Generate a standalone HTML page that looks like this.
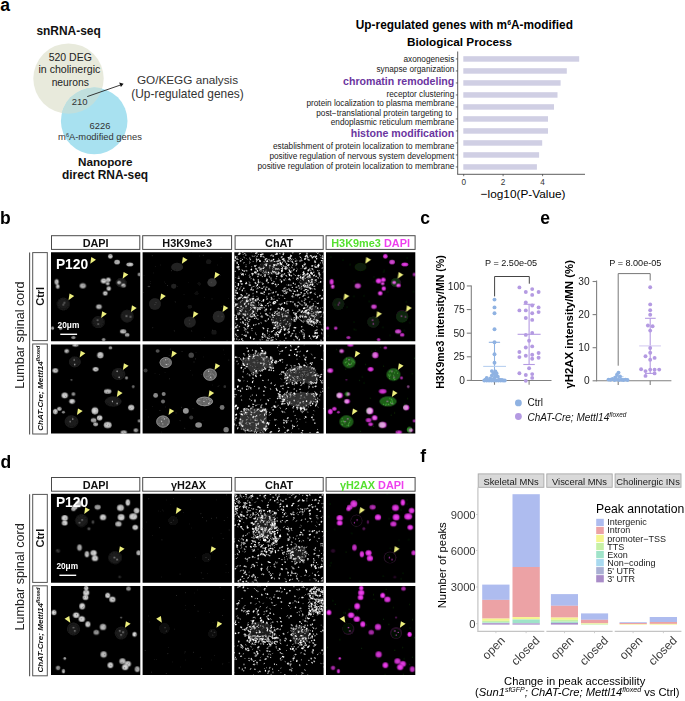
<!DOCTYPE html>
<html><head><meta charset="utf-8"><title>Figure</title>
<style>
html,body{margin:0;padding:0;background:#fff;width:685px;height:701px;overflow:hidden}
svg{display:block}
text{font-family:"Liberation Sans",sans-serif}
</style></head><body>
<svg width="685" height="701" viewBox="0 0 685 701" font-family="Liberation Sans, sans-serif">
<defs><filter id="soft" x="-5%" y="-5%" width="110%" height="110%"><feGaussianBlur stdDeviation="3.5"/></filter>
<filter id="soft2" x="-5%" y="-5%" width="110%" height="110%"><feGaussianBlur stdDeviation="2"/></filter>
<radialGradient id="nuc"><stop offset="0" stop-color="#ececec"/><stop offset="0.6" stop-color="#d4d4d4"/><stop offset="1" stop-color="#a0a0a0"/></radialGradient>
<radialGradient id="nucm"><stop offset="0" stop-color="#ff50ff"/><stop offset="0.6" stop-color="#e838e8"/><stop offset="1" stop-color="#b020b0"/></radialGradient>
</defs>
<rect width="685" height="701" fill="#fff"/>
<text x="0.20" y="11.40" font-size="17.5" font-weight="bold" text-anchor="start" fill="#000" >a</text>
<text x="68.60" y="35.10" font-size="11.95" font-weight="bold" text-anchor="middle" fill="#111" >snRNA-seq</text>
<defs><clipPath id="cb"><circle cx="68.5" cy="78.6" r="35.2"/></clipPath></defs>
<circle cx="68.5" cy="78.6" r="35.2" fill="#e8eadc"/>
<circle cx="94.2" cy="120.9" r="33.3" fill="#a8e1f0"/>
<circle cx="94.2" cy="120.9" r="33.3" fill="#c0dfdd" clip-path="url(#cb)"/>
<text x="70.25" y="61.10" font-size="10.5" text-anchor="middle" fill="#222" >520 DEG</text>
<text x="69.40" y="73.30" font-size="10.6" text-anchor="middle" fill="#222" >in cholinergic</text>
<text x="70.25" y="86.00" font-size="10.3" text-anchor="middle" fill="#222" >neurons</text>
<text x="79.60" y="104.60" font-size="9.5" text-anchor="middle" fill="#333" >210</text>
<text x="100.00" y="128.80" font-size="9.4" text-anchor="middle" fill="#333" >6226</text>
<text x="100" y="140.2" font-size="9.4" text-anchor="middle" fill="#333">m<tspan font-size="5.5" dy="-3.2">6</tspan><tspan dy="3.2">A-modified genes</tspan></text>
<text x="105.30" y="165.60" font-size="11.7" font-weight="bold" text-anchor="middle" fill="#111" >Nanopore</text>
<text x="105.00" y="179.40" font-size="11.95" font-weight="bold" text-anchor="middle" fill="#111" >direct RNA-seq</text>
<line x1="87.2" y1="96.6" x2="120.5" y2="85" stroke="#222" stroke-width="0.9"/>
<polygon points="123.6,83.8 119.2,82.6 120.9,87" fill="#111"/>
<text x="187.50" y="84.10" font-size="11.75" text-anchor="middle" fill="#333" >GO/KEGG analysis</text>
<text x="187.50" y="97.80" font-size="11.9" text-anchor="middle" fill="#333" >(Up-regulated genes)</text>
<text x="355.8" y="29" font-size="11.85" font-weight="bold" fill="#000">Up-regulated genes with m<tspan font-size="7" dy="-4">6</tspan><tspan dy="4">A-modified</tspan></text>
<text x="406.90" y="45.60" font-size="11.75" font-weight="bold" text-anchor="start" fill="#000" >Biological Process</text>
<rect x="463.3" y="56.20" width="115.90" height="5.5" fill="#d0cfe4"/>
<line x1="455.8" y1="58.95" x2="457.7" y2="58.95" stroke="#333" stroke-width="0.7"/>
<text x="454.30" y="61.80" font-size="8.24" text-anchor="end" fill="#1a1a1a" >axonogenesis</text>
<rect x="463.3" y="68.20" width="103.50" height="5.5" fill="#d0cfe4"/>
<line x1="455.8" y1="70.95" x2="457.7" y2="70.95" stroke="#333" stroke-width="0.7"/>
<text x="454.30" y="72.20" font-size="8.24" text-anchor="end" fill="#1a1a1a" >synapse organization</text>
<rect x="463.3" y="80.20" width="97.30" height="5.5" fill="#d0cfe4"/>
<line x1="455.8" y1="82.95" x2="457.7" y2="82.95" stroke="#333" stroke-width="0.7"/>
<text x="454.30" y="85.00" font-size="10.6" font-weight="bold" text-anchor="end" fill="#6b35a0" >chromatin remodeling</text>
<rect x="463.3" y="92.20" width="94.20" height="5.5" fill="#d0cfe4"/>
<line x1="455.8" y1="94.95" x2="457.7" y2="94.95" stroke="#333" stroke-width="0.7"/>
<text x="454.30" y="96.60" font-size="8.24" text-anchor="end" fill="#1a1a1a" >receptor clustering</text>
<rect x="463.3" y="104.20" width="90.70" height="5.5" fill="#d0cfe4"/>
<line x1="455.8" y1="106.95" x2="457.7" y2="106.95" stroke="#333" stroke-width="0.7"/>
<text x="454.30" y="106.00" font-size="8.24" text-anchor="end" fill="#1a1a1a" >protein localization to plasma membrane</text>
<rect x="463.3" y="116.20" width="84.70" height="5.5" fill="#d0cfe4"/>
<line x1="455.8" y1="118.95" x2="457.7" y2="118.95" stroke="#333" stroke-width="0.7"/>
<text x="454.30" y="116.40" font-size="8.24" text-anchor="end" fill="#1a1a1a" >post−translational protein targeting to&#160;</text>
<text x="454.30" y="124.70" font-size="8.24" text-anchor="end" fill="#1a1a1a" >endoplasmic reticulum membrane</text>
<rect x="463.3" y="128.20" width="84.70" height="5.5" fill="#d0cfe4"/>
<line x1="455.8" y1="130.95" x2="457.7" y2="130.95" stroke="#333" stroke-width="0.7"/>
<text x="454.30" y="137.00" font-size="10.6" font-weight="bold" text-anchor="end" fill="#6b35a0" >histone modification</text>
<rect x="463.3" y="140.20" width="78.90" height="5.5" fill="#d0cfe4"/>
<line x1="455.8" y1="142.95" x2="457.7" y2="142.95" stroke="#333" stroke-width="0.7"/>
<text x="454.30" y="148.60" font-size="8.24" text-anchor="end" fill="#1a1a1a" >establishment of protein localization to membrane</text>
<rect x="463.3" y="152.20" width="75.80" height="5.5" fill="#d0cfe4"/>
<line x1="455.8" y1="154.95" x2="457.7" y2="154.95" stroke="#333" stroke-width="0.7"/>
<text x="454.30" y="158.50" font-size="8.24" text-anchor="end" fill="#1a1a1a" >positive regulation of nervous system development</text>
<rect x="463.3" y="164.20" width="73.60" height="5.5" fill="#d0cfe4"/>
<line x1="455.8" y1="166.95" x2="457.7" y2="166.95" stroke="#333" stroke-width="0.7"/>
<text x="454.30" y="168.50" font-size="8.24" text-anchor="end" fill="#1a1a1a" >positive regulation of protein localization to membrane</text>
<line x1="457.7" y1="51.5" x2="457.7" y2="174.3" stroke="#333" stroke-width="0.8"/>
<line x1="457.3" y1="174.3" x2="585" y2="174.3" stroke="#333" stroke-width="0.8"/>
<line x1="463.7" y1="174.3" x2="463.7" y2="176.2" stroke="#333" stroke-width="0.7"/>
<text x="463.70" y="184.90" font-size="8.2" text-anchor="middle" fill="#333" >0</text>
<line x1="503.1" y1="174.3" x2="503.1" y2="176.2" stroke="#333" stroke-width="0.7"/>
<text x="503.10" y="184.90" font-size="8.2" text-anchor="middle" fill="#333" >2</text>
<line x1="542.6" y1="174.3" x2="542.6" y2="176.2" stroke="#333" stroke-width="0.7"/>
<text x="542.60" y="184.90" font-size="8.2" text-anchor="middle" fill="#333" >4</text>
<text x="523.10" y="197.80" font-size="11.8" text-anchor="middle" fill="#000" >−log10(P-Value)</text>
<svg x="51.0" y="252.3" width="89.3" height="89.0" viewBox="8 15 665 663" preserveAspectRatio="none">
<rect x="0" y="0" width="700" height="700" fill="#000"/>
<g filter="url(#soft)">
<ellipse cx="530" cy="240" rx="38" ry="32" fill="#212121"/>
<ellipse cx="100" cy="400" rx="45" ry="45" fill="#1a1a1a"/>
<ellipse cx="360" cy="535" rx="45" ry="42" fill="#1a1a1a"/>
<ellipse cx="575" cy="490" rx="45" ry="45" fill="#1f1f1f"/>
<ellipse cx="100" cy="405" rx="5" ry="5" fill="#d9d9d9"/>
<ellipse cx="108" cy="390" rx="5" ry="5" fill="#d9d9d9"/>
<ellipse cx="570" cy="490" rx="5" ry="5" fill="#d9d9d9"/>
<ellipse cx="600" cy="495" rx="5" ry="5" fill="#d9d9d9"/>
<ellipse cx="360" cy="548" rx="5" ry="5" fill="#d9d9d9"/>
<ellipse cx="355" cy="520" rx="5" ry="5" fill="#d9d9d9"/>
<ellipse cx="520" cy="238" rx="5" ry="5" fill="#d9d9d9"/>
<ellipse cx="450" cy="45" rx="18.0" ry="18.0" fill="url(#nuc)" opacity="0.90"/>
<ellipse cx="500" cy="88" rx="21.6" ry="18.0" fill="url(#nuc)" opacity="0.84"/>
<ellipse cx="595" cy="105" rx="26.4" ry="15.6" fill="url(#nuc)" opacity="0.90"/>
<ellipse cx="50" cy="235" rx="15.6" ry="21.6" fill="url(#nuc)" opacity="0.90"/>
<ellipse cx="58" cy="270" rx="14.4" ry="16.8" fill="url(#nuc)" opacity="0.90"/>
<ellipse cx="245" cy="265" rx="24.0" ry="20.4" fill="url(#nuc)" opacity="0.78"/>
<ellipse cx="400" cy="228" rx="21.6" ry="19.2" fill="url(#nuc)" opacity="0.95"/>
<ellipse cx="435" cy="220" rx="18.0" ry="16.8" fill="url(#nuc)" opacity="0.95"/>
<ellipse cx="430" cy="248" rx="14.4" ry="12.0" fill="url(#nuc)" opacity="0.95"/>
<ellipse cx="438" cy="285" rx="16.8" ry="16.8" fill="url(#nuc)" opacity="0.95"/>
<ellipse cx="412" cy="320" rx="18.0" ry="16.8" fill="url(#nuc)" opacity="0.95"/>
<ellipse cx="365" cy="420" rx="21.6" ry="18.0" fill="url(#nuc)" opacity="0.84"/>
<ellipse cx="20" cy="580" rx="12.0" ry="12.0" fill="url(#nuc)" opacity="0.78"/>
<ellipse cx="80" cy="580" rx="14.4" ry="12.0" fill="url(#nuc)" opacity="0.78"/>
<ellipse cx="545" cy="605" rx="24.0" ry="16.8" fill="url(#nuc)" opacity="0.84"/>
<ellipse cx="575" cy="630" rx="18.0" ry="14.4" fill="url(#nuc)" opacity="0.78"/>
<ellipse cx="175" cy="650" rx="16.8" ry="12.0" fill="url(#nuc)" opacity="0.67"/>
<ellipse cx="400" cy="665" rx="14.4" ry="12.0" fill="url(#nuc)" opacity="0.67"/>
<ellipse cx="665" cy="180" rx="12.0" ry="14.4" fill="url(#nuc)" opacity="0.67"/>
<ellipse cx="515" cy="240" rx="15.6" ry="13.2" fill="url(#nuc)" opacity="0.90"/>
<ellipse cx="548" cy="262" rx="18.0" ry="14.4" fill="url(#nuc)" opacity="0.95"/>
<ellipse cx="530" cy="240" rx="38" ry="32" fill="none" stroke="#2c2c2c" stroke-width="4"/>
<ellipse cx="100" cy="400" rx="45" ry="45" fill="none" stroke="#2c2c2c" stroke-width="4"/>
<ellipse cx="360" cy="535" rx="45" ry="42" fill="none" stroke="#2c2c2c" stroke-width="4"/>
<ellipse cx="575" cy="490" rx="45" ry="45" fill="none" stroke="#2c2c2c" stroke-width="4"/>
<path d="M447 40l0 0M452 39l0 0M501 86l0 0M492 88l0 0M585 104l0 0M586 100l0 0M49 241l0 0M45 230l0 0M60 276l0 0M247 263l0 0M255 257l0 0M406 225l0 0M394 222l0 0M432 224l0 0M430 221l0 0M432 247l0 0M439 279l0 0M432 281l0 0M415 319l0 0M409 321l0 0M364 417l0 0M370 423l0 0M17 581l0 0M80 584l0 0M550 602l0 0M555 600l0 0M574 633l0 0M570 630l0 0M169 652l0 0M179 651l0 0M405 663l0 0M667 181l0 0M516 240l0 0M519 245l0 0M548 264l0 0M541 264l0 0" stroke="#707070" stroke-width="6" stroke-linecap="round" fill="none"/>
</g>
<polygon points="300.4,100.8 307.9,50.9 342.9,70.3" fill="#eef07e"/>
<polygon points="541.4,211.8 548.9,161.9 583.9,181.3" fill="#eef07e"/>
<polygon points="138.4,371.8 145.9,321.9 180.9,341.3" fill="#eef07e"/>
<polygon points="381.4,503.8 388.9,453.9 423.9,473.3" fill="#eef07e"/>
<polygon points="603.4,459.8 610.9,409.9 645.9,429.3" fill="#eef07e"/>
</svg>
<svg x="142.6" y="252.3" width="89.3" height="89.0" viewBox="8 15 665 663" preserveAspectRatio="none">
<rect x="0" y="0" width="700" height="700" fill="#000"/>
<g filter="url(#soft)">
<ellipse cx="265" cy="125" rx="45" ry="32" fill="#202020"/>
<ellipse cx="525" cy="240" rx="35" ry="32" fill="#353535"/>
<ellipse cx="240" cy="268" rx="20" ry="18" fill="#202020"/>
<ellipse cx="100" cy="400" rx="45" ry="45" fill="#202020"/>
<ellipse cx="360" cy="535" rx="45" ry="42" fill="#202020"/>
<ellipse cx="575" cy="495" rx="45" ry="45" fill="#282828"/>
<ellipse cx="500" cy="85" rx="20" ry="18" fill="#151515"/>
<ellipse cx="540" cy="610" rx="20" ry="18" fill="#161616"/>
<ellipse cx="360" cy="420" rx="18" ry="15" fill="#161616"/>
<ellipse cx="410" cy="320" rx="15" ry="14" fill="#101010"/>
<ellipse cx="55" cy="270" rx="10" ry="6" fill="#383838"/>
<ellipse cx="430" cy="250" rx="14" ry="14" fill="#0e0e0e"/>
<ellipse cx="100" cy="405" rx="4" ry="4" fill="#4c4c4c"/>
<ellipse cx="108" cy="390" rx="4" ry="4" fill="#4c4c4c"/>
<ellipse cx="570" cy="490" rx="4" ry="4" fill="#4c4c4c"/>
<ellipse cx="600" cy="495" rx="4" ry="4" fill="#4c4c4c"/>
<ellipse cx="360" cy="548" rx="4" ry="4" fill="#4c4c4c"/>
<ellipse cx="355" cy="520" rx="4" ry="4" fill="#4c4c4c"/>
<ellipse cx="520" cy="238" rx="4" ry="4" fill="#4c4c4c"/>
<path d="M15 314l0 0M88 168l0 0M593 55l0 0M588 189l0 0M103 120l0 0M159 330l0 0M179 3l0 0M470 351l0 0M267 271l0 0M431 42l0 0M142 110l0 0M36 0l0 0M69 247l0 0M595 418l0 0M172 236l0 0M317 329l0 0M69 233l0 0M564 110l0 0M647 359l0 0M369 18l0 0M178 249l0 0M556 503l0 0M352 242l0 0M19 190l0 0M471 650l0 0M248 150l0 0" stroke="#202020" stroke-width="6" stroke-linecap="round" fill="none"/>
<path d="M440 675l0 0M194 262l0 0M80 40l0 0M374 601l0 0M244 601l0 0M251 385l0 0M460 37l0 0M530 595l0 0M84 577l0 0M665 587l0 0M525 362l0 0M224 152l0 0M670 580l0 0M637 672l0 0" stroke="#404040" stroke-width="6" stroke-linecap="round" fill="none"/>
</g>
<polygon points="300.4,100.8 307.9,50.9 342.9,70.3" fill="#eef07e"/>
<polygon points="541.4,211.8 548.9,161.9 583.9,181.3" fill="#eef07e"/>
<polygon points="138.4,371.8 145.9,321.9 180.9,341.3" fill="#eef07e"/>
<polygon points="381.4,503.8 388.9,453.9 423.9,473.3" fill="#eef07e"/>
<polygon points="603.4,459.8 610.9,409.9 645.9,429.3" fill="#eef07e"/>
</svg>
<svg x="234.3" y="252.3" width="89.3" height="89.0" viewBox="8 15 665 663" preserveAspectRatio="none">
<rect x="0" y="0" width="700" height="700" fill="#000"/>
<g filter="url(#soft2)">
<ellipse cx="100" cy="430" rx="80" ry="70" fill="#1f1f1f"/>
<ellipse cx="360" cy="520" rx="80" ry="70" fill="#1a1a1a"/>
<ellipse cx="580" cy="480" rx="70" ry="70" fill="#1a1a1a"/>
<ellipse cx="550" cy="230" rx="60" ry="50" fill="#121212"/>
<ellipse cx="270" cy="130" rx="80" ry="55" fill="#141414"/>
<path d="M59 379l0 0M100 382l0 0M164 410l0 0M72 422l0 0M117 401l0 0M97 475l0 0M33 409l0 0M63 417l0 0M155 382l0 0M135 445l0 0M81 456l0 0M90 433l0 0M59 395l0 0M133 452l0 0M108 394l0 0M300 495l0 0M362 543l0 0M394 530l0 0M336 577l0 0M326 520l0 0M400 524l0 0M354 468l0 0M284 531l0 0M330 456l0 0M321 543l0 0M359 548l0 0M352 554l0 0M343 559l0 0M377 567l0 0M372 523l0 0M396 490l0 0M333 467l0 0M360 539l0 0M538 442l0 0M562 530l0 0M560 426l0 0M629 525l0 0M647 471l0 0M546 491l0 0M624 442l0 0M619 451l0 0M572 505l0 0M554 539l0 0M580 416l0 0M547 496l0 0M631 518l0 0M612 466l0 0M523 462l0 0M557 450l0 0M594 504l0 0M621 453l0 0M600 504l0 0M568 498l0 0M538 473l0 0M601 455l0 0M550 247l0 0M507 240l0 0M530 208l0 0M518 215l0 0M545 227l0 0M581 207l0 0M532 201l0 0M521 188l0 0M547 195l0 0M520 188l0 0M559 239l0 0M523 251l0 0M552 232l0 0M515 269l0 0M570 189l0 0M537 254l0 0M559 227l0 0M193 132l0 0M279 88l0 0M270 144l0 0M329 93l0 0M257 94l0 0M323 165l0 0M282 156l0 0M225 85l0 0M284 124l0 0M306 103l0 0M284 77l0 0M218 105l0 0M250 145l0 0M272 136l0 0M255 109l0 0M209 116l0 0M310 105l0 0M231 158l0 0M305 125l0 0" stroke="#202020" stroke-width="8" stroke-linecap="round" fill="none"/>
<path d="M112 460l0 0M159 392l0 0M59 373l0 0M111 391l0 0M150 422l0 0M111 405l0 0M164 423l0 0M163 420l0 0M90 463l0 0M140 408l0 0M34 397l0 0M149 405l0 0M89 429l0 0M102 434l0 0M126 473l0 0M57 416l0 0M108 381l0 0M105 363l0 0M57 398l0 0M81 386l0 0M23 439l0 0M28 405l0 0M118 449l0 0M138 479l0 0M115 497l0 0M21 436l0 0M128 469l0 0M98 420l0 0M33 461l0 0M422 541l0 0M430 550l0 0M428 546l0 0M357 545l0 0M382 478l0 0M385 482l0 0M393 469l0 0M375 534l0 0M400 465l0 0M329 527l0 0M319 553l0 0M358 541l0 0M367 573l0 0M360 463l0 0M391 517l0 0M350 509l0 0M409 485l0 0M371 496l0 0M287 518l0 0M389 525l0 0M418 559l0 0M316 480l0 0M355 520l0 0M359 470l0 0M349 505l0 0M355 489l0 0M416 513l0 0M523 488l0 0M601 508l0 0M614 493l0 0M533 475l0 0M610 469l0 0M623 527l0 0M629 481l0 0M569 521l0 0M634 480l0 0M550 478l0 0M643 462l0 0M575 433l0 0M602 469l0 0M559 512l0 0M615 475l0 0M564 530l0 0M638 441l0 0M580 435l0 0M615 515l0 0M580 524l0 0M592 482l0 0M583 209l0 0M541 190l0 0M549 270l0 0M562 239l0 0M493 242l0 0M551 279l0 0M547 237l0 0M584 236l0 0M539 210l0 0M583 225l0 0M553 253l0 0M534 277l0 0M561 252l0 0M550 221l0 0M577 225l0 0M574 189l0 0M589 240l0 0M573 219l0 0M558 225l0 0M527 213l0 0M552 182l0 0M240 148l0 0M292 85l0 0M250 160l0 0M301 142l0 0M291 139l0 0M215 152l0 0M269 79l0 0M225 116l0 0M313 172l0 0M232 129l0 0M199 138l0 0M203 104l0 0M268 173l0 0M291 177l0 0M293 137l0 0M304 169l0 0M247 168l0 0M247 148l0 0M206 153l0 0M329 134l0 0M290 121l0 0M313 154l0 0M344 111l0 0M343 147l0 0" stroke="#404040" stroke-width="8" stroke-linecap="round" fill="none"/>
<path d="M122 449l0 0M148 411l0 0M66 376l0 0M147 481l0 0M171 424l0 0M98 457l0 0M367 501l0 0M328 564l0 0M353 588l0 0M322 510l0 0M388 473l0 0M519 496l0 0M612 519l0 0M633 454l0 0M534 431l0 0M577 533l0 0M614 494l0 0M642 462l0 0M588 230l0 0M575 189l0 0M501 224l0 0M556 206l0 0M528 244l0 0M505 259l0 0M544 180l0 0M538 249l0 0M565 233l0 0M548 273l0 0M533 252l0 0M492 238l0 0M227 120l0 0M247 161l0 0M296 146l0 0M261 160l0 0M206 156l0 0M272 134l0 0M258 169l0 0" stroke="#606060" stroke-width="8" stroke-linecap="round" fill="none"/>
<path d="M493 610l3 5M678 309l-0 0M270 67l0 2M288 513l-0 2M398 258l4 1M607 179l-5 3M662 44l-0 2M174 249l1 3M97 538l-4 0M17 201l4 4M15 239l5 3M109 500l-1 9M110 511l1 2" stroke="#808080" stroke-width="5" stroke-linecap="round" fill="none"/>
<path d="M422 170l-3 1M500 520l1 3M606 43l7 4M384 587l3 3M660 357l6 3M512 279l1 1M146 181l-3 7M558 144l-1 4M495 328l7 1M424 564l0 0M149 341l-1 9M649 91l-1 6M146 471l-5 2M94 601l-0 8M249 647l2 0M120 251l-3 1M1 603l0 0M0 285l7 5M229 632l-0 1M649 549l7 5M204 468l0 5" stroke="#808080" stroke-width="7" stroke-linecap="round" fill="none"/>
<path d="M444 15l-0 3M239 632l-6 5M469 412l-4 2M123 57l1 8M200 665l1 5M172 378l0 0M43 140l-2 5M150 379l-5 2M187 355l0 6M457 2l0 1M148 321l-1 2M323 471l-1 5M575 152l3 1M558 55l-2 1M218 495l-3 4M435 126l4 5" stroke="#808080" stroke-width="9" stroke-linecap="round" fill="none"/>
<path d="M619 7l-0 3M241 472l1 0M314 626l7 1M144 405l0 0M32 472l0 2M349 545l-4 6M335 563l-2 7M381 283l-5 4M398 395l2 5M89 473l-2 0M271 385l0 0M1 49l-2 0M332 583l1 0M399 315l-1 1M102 360l-0 7M390 453l1 3M80 153l-0 1M497 280l-5 3M528 106l8 0M246 275l4 1" stroke="#808080" stroke-width="11" stroke-linecap="round" fill="none"/>
<path d="M250 342l0 6M352 335l-0 0M388 209l4 3M534 185l3 4M268 605l2 3M172 260l1 4M591 287l-3 2M597 147l1 0M417 548l-2 6M369 473l-1 0M580 661l2 1M317 137l-2 3M616 466l8 3M244 451l-7 3M467 482l0 7M668 427l-4 0M544 401l-4 7M348 400l-7 1M523 5l-5 4M233 54l4 6M207 43l1 0M541 425l2 2M230 84l-1 0M603 514l-6 7M18 542l0 6M274 124l-5 3M213 19l1 9M96 108l-0 1M105 511l-2 7M411 123l-5 5M449 17l-6 4M167 25l3 2M671 267l6 2M592 471l2 0M514 483l6 2M349 138l-4 6M117 236l8 4M540 185l-1 1M299 519l-0 4M55 62l-1 1M446 208l1 0M340 358l3 1M639 551l-0 0M332 79l6 2M128 494l-4 2M349 672l1 1M460 474l5 0M447 347l5 0M160 436l6 3M402 306l4 6M380 577l-4 2M500 476l-1 1M326 569l1 2M331 587l-1 1M266 174l-4 6M667 79l-0 9M444 292l2 4M570 422l-1 2M88 302l-1 0M606 516l1 2M478 78l-4 4M254 74l2 4M390 220l1 1M284 318l-4 3M70 627l-6 1M507 405l3 4M531 281l1 1" stroke="#9f9f9f" stroke-width="5" stroke-linecap="round" fill="none"/>
<path d="M422 561l-2 5M342 462l-6 5M58 345l6 5M142 492l-7 5M509 286l-3 6M26 369l4 1M545 267l8 2M580 521l0 2M377 180l-1 4M533 196l-2 1M401 129l4 6M273 490l2 9M259 69l-3 4M319 211l-0 2M270 628l2 2M52 224l5 1M175 373l4 0M313 554l-2 1M6 580l-3 2M215 241l2 6M106 346l6 4M399 450l-4 2M249 356l7 4M24 299l2 2M658 615l2 8M199 374l-6 1M58 169l-1 2M451 177l2 4M490 263l3 4M487 499l0 8M485 456l-7 3M282 218l4 8M112 616l-2 1M214 662l3 1M321 134l4 5M206 539l5 3M246 410l-8 3M554 416l-1 7M245 99l-4 2M517 216l5 5M169 469l4 1M174 176l4 3M400 587l5 7M184 28l5 4M579 469l2 7M453 142l2 0M51 472l-0 1M143 364l1 2M561 540l-4 0M34 593l-2 5M345 25l6 1M603 513l-6 4M349 172l-1 0M98 319l2 3M141 43l8 2M270 8l2 1M148 83l1 0M668 88l-4 2M119 561l3 3" stroke="#9f9f9f" stroke-width="7" stroke-linecap="round" fill="none"/>
<path d="M281 205l0 6M72 358l-2 0M602 162l-6 4M335 80l-1 0M160 490l8 2M181 280l3 4M109 475l-5 1M25 660l2 2M562 349l-5 3M604 286l6 4M17 269l-1 2M624 592l-5 5M497 445l1 0M194 129l-6 2M147 387l8 4M388 680l-0 5M175 137l-4 7M224 248l-5 6M66 440l-0 1M101 348l6 4M245 476l0 2M411 443l-6 3M181 43l-1 0M314 134l0 6M432 303l1 1M198 127l-6 1M382 594l2 0M398 549l-6 1M653 668l3 8M93 417l-0 3M379 588l2 8M503 208l2 0M521 208l-4 7M597 397l-0 4M552 519l-5 8M587 364l-1 2M644 177l2 6M456 502l-3 0M363 396l-1 3M520 215l4 6M567 497l1 2M320 163l-7 3M531 628l-0 0M509 524l-0 3M384 358l-1 1M116 338l-6 3M648 337l-4 5M235 7l4 1M28 58l-2 1M242 524l-5 1M59 421l-0 0M239 160l-4 7M564 438l0 4M509 378l4 2M443 447l-1 1M96 379l4 6" stroke="#9f9f9f" stroke-width="9" stroke-linecap="round" fill="none"/>
<path d="M213 490l-5 4M213 427l1 2M239 180l-1 8M679 550l-4 1M405 463l5 3M473 275l-5 0M413 64l4 3M335 81l-8 2M97 151l4 2M396 138l-7 2M91 393l-4 4M299 538l-5 1M256 652l3 3M267 324l-3 1M73 499l3 5M187 220l-0 1M484 328l7 3M508 77l4 0M588 484l-6 2M20 298l0 5M643 534l5 2M614 124l8 2M559 477l1 2M554 444l-7 3M167 135l1 3M275 114l-4 1M54 513l2 1M383 305l1 0M505 488l-5 6M208 145l-1 0M530 389l4 6M416 586l-3 2M432 635l-3 5M607 87l5 3M544 407l-8 0M367 301l7 4M32 123l-4 2M562 519l1 1M529 270l4 2M329 471l0 4M414 288l2 1M335 2l3 2M387 299l-1 2M659 588l6 6M286 516l1 2M140 360l4 1M266 285l0 4M14 359l2 1M476 332l3 7M298 121l-0 1M587 437l-3 5M491 675l-2 6M468 513l0 4M597 490l-4 0M133 398l-1 6" stroke="#9f9f9f" stroke-width="11" stroke-linecap="round" fill="none"/>
<path d="M544 497l0 0M251 99l3 2M452 666l2 8M106 578l2 5M143 465l-2 6M39 469l3 1M393 621l-6 5M466 621l0 5M642 195l6 5M73 497l-1 5M421 545l1 2M623 393l4 5M329 555l-8 1M296 465l-1 1M469 8l0 0M340 107l1 1M91 342l-6 1M322 143l-6 1M437 10l1 2M357 50l0 7M577 436l-5 0M450 577l1 2M479 416l-2 7M166 616l-1 0M204 237l1 1M602 486l8 5M535 497l0 0M201 11l7 2M149 372l-1 1M516 591l2 0M36 642l-7 2M273 294l8 4M122 86l0 0M24 567l4 5M177 344l-1 0M23 316l3 6M145 424l2 4M219 25l4 2M409 380l-4 4M580 420l7 5M512 211l-0 1M222 631l0 0M610 239l-2 2M589 175l-3 4M134 211l-3 1M393 303l-3 1M567 238l-1 2M206 396l4 7M371 17l1 2M261 179l-2 3M585 218l2 3M483 220l-2 1M104 566l2 3M234 180l-6 4M606 83l0 0M651 429l-2 5M316 637l-3 0M406 444l-0 3M174 112l-3 1M258 519l-2 2M505 136l0 0M413 446l1 8M80 50l3 7M484 646l-3 1M519 408l-9 1M224 324l8 4M670 107l-0 0M428 556l-4 3M351 523l0 2M272 656l-0 0M140 597l1 2M437 14l4 2M526 524l2 5M388 514l-7 5" stroke="#bfbfbf" stroke-width="5" stroke-linecap="round" fill="none"/>
<path d="M567 261l3 1M519 530l2 7M178 484l6 1M9 581l-2 4M96 411l2 8M555 318l1 7M616 476l-4 2M187 387l3 8M556 54l-7 4M190 66l2 0M175 84l-3 2M374 80l-3 2M302 125l1 4M166 118l-0 0M149 461l-3 3M577 244l1 2M301 383l-1 4M542 275l9 1M601 532l-7 0M256 617l0 0M4 89l-0 6M34 426l5 0M602 463l-6 5M608 268l-8 1M275 390l-1 1M671 49l-4 0M620 540l-1 8M246 167l-1 0M557 410l-1 1M563 265l-3 3M587 456l-3 0M266 71l2 1M309 163l6 2M365 196l-1 2M273 468l1 0M212 283l-1 0M639 150l1 1M507 596l0 1M237 82l-2 2M129 68l-1 3M655 492l-2 5M74 29l0 1M426 79l-2 1M497 25l-5 3M434 68l3 5M563 177l4 3M440 339l4 1M382 323l2 2M160 168l5 4M119 529l-4 1M496 516l-1 1M133 371l-8 5M564 515l-5 0M610 109l-1 2M266 638l1 2M1 668l-7 6M92 179l-0 0M624 251l1 2M606 325l8 3M475 137l1 1M58 272l-1 2M383 625l1 1M364 338l7 1M353 89l0 1M495 395l3 7M89 589l-5 7M334 432l-1 4M255 658l8 1M48 569l-4 1M42 194l-0 0M218 196l-2 0M272 656l-1 0M375 18l2 4M29 131l1 1M645 34l5 3M614 228l4 2M294 153l-1 0M501 500l-2 3M547 292l-8 2" stroke="#bfbfbf" stroke-width="7" stroke-linecap="round" fill="none"/>
<path d="M142 179l3 2M33 557l-5 5M198 425l7 3M542 125l-0 9M377 220l5 2M620 193l-4 3M563 275l4 7M185 513l-1 0M91 453l-0 0M295 647l3 2M472 151l-1 4M527 461l2 0M244 62l6 1M326 81l1 0M572 427l1 2M360 572l-0 4M140 469l1 0M221 28l-3 4M594 488l2 5M23 487l1 6M443 619l-6 4M341 466l4 1M187 178l4 5M525 337l-6 6M545 401l-2 6M283 350l4 8M547 460l4 5M413 615l-6 0M69 250l-0 1M491 441l1 8M319 309l-2 2M218 284l-3 1M453 141l-4 7M666 295l0 4M418 215l7 6M596 412l0 1M629 347l-2 1M310 625l8 4M498 76l-1 6M4 40l-1 0M121 517l4 0M486 263l-1 4M266 289l-1 4M535 323l-8 3M94 34l0 3M574 654l0 0M222 48l5 1M611 124l8 3M431 382l-7 0M281 437l-4 6M542 179l-0 3M459 529l2 0M352 100l8 2M154 411l-8 2M83 156l-0 1M527 256l2 1M508 271l-0 0M148 293l-1 6M86 514l4 8M590 527l-4 4M337 639l-2 4M592 114l-4 3M504 247l-0 1M631 204l4 2M16 46l-1 0M478 653l-1 5M351 597l-2 7M192 176l-5 3M350 402l-0 2M462 81l2 2M315 167l-1 1M90 634l-8 0M140 582l-2 2M340 167l0 4M6 76l-3 7M118 330l-0 6M180 429l-2 1M556 258l-4 5" stroke="#bfbfbf" stroke-width="9" stroke-linecap="round" fill="none"/>
<path d="M108 610l-0 1M433 189l-1 1M568 277l6 4M382 175l0 0M291 604l-5 2M193 1l-1 0M19 625l0 0M639 460l6 2M177 74l-1 0M162 162l8 1M321 176l6 0M299 42l-2 2M413 258l1 2M459 398l0 8M89 480l2 5M541 493l3 4M383 74l-3 3M606 541l-2 7M678 518l0 0M456 524l-3 2M339 433l2 4M164 241l3 5M340 76l8 2M47 29l-7 1M310 393l-1 4M678 473l6 3M96 633l-1 8M245 472l1 2M74 177l1 7M297 498l1 0M363 48l-2 4M412 81l0 0M114 398l-0 2M252 482l6 3M151 216l3 6M521 201l-1 3M445 386l0 0M241 289l1 6M367 135l-1 1M189 437l9 1M616 460l2 1M126 362l-0 7M29 89l1 8M284 651l-0 0M65 660l-2 3M609 80l3 8M155 659l-3 2M400 490l-1 3M328 542l1 4M330 100l1 2M288 75l-7 5M641 177l1 7M439 344l1 2M557 69l8 4M199 80l-2 1M450 466l3 1M163 426l1 3M366 148l-4 2M389 88l0 0M147 493l-7 1M532 106l-1 2M507 600l3 6M38 359l3 4M469 486l2 7M44 208l-6 1M79 283l-1 1M191 239l-4 3M574 424l-2 8M385 582l2 4M178 363l8 2M335 138l-5 2M394 313l-0 8M481 411l-0 3M325 374l4 0M556 297l1 2M184 195l-1 0" stroke="#bfbfbf" stroke-width="11" stroke-linecap="round" fill="none"/>
<path d="M162 40l-3 5M193 403l-3 7M356 196l0 0M55 536l2 5M296 133l-2 1M633 124l0 3M142 274l-6 2M570 134l1 7M51 433l0 0M106 524l5 4M64 446l2 1M563 226l-2 7M461 186l4 4M419 578l-5 5M358 405l-6 3M677 233l1 1M280 41l-3 0M232 106l-0 2M516 131l2 1M613 595l-5 7M601 564l-3 3M368 474l-4 6M68 373l-0 0M524 593l2 3M232 626l3 4M318 660l4 6M186 172l-4 4M673 155l-3 8M181 449l-1 6M338 613l-0 1M377 523l-1 0M436 152l2 1M234 642l1 1M221 167l2 4M679 288l-2 1M281 167l7 2M530 618l-1 2M430 256l0 8M606 496l0 9M622 534l8 5M571 550l2 1M420 130l2 3M570 201l-5 6M58 382l-3 6M59 353l-6 3M621 569l5 2M336 98l4 3M577 549l0 4M341 96l-6 3M176 288l-0 0M631 635l7 2M409 593l-2 4M341 479l3 7M126 93l-5 3M101 248l-9 0M381 281l5 4M673 500l3 0M619 15l1 1M172 552l-7 3M551 248l0 0M22 573l-2 5M29 45l-3 1M668 128l0 1M671 339l3 2M323 270l-4 1M525 461l-2 5M508 64l-2 5M555 532l-2 0M215 380l-3 1M226 152l-0 4M120 184l-1 3M305 364l-4 1M368 179l-8 1M575 39l-5 3M390 278l1 0M129 410l5 3M10 390l5 5M471 110l-6 6M174 48l-3 2M525 656l6 1M610 382l1 1M98 589l-1 0M662 133l-0 3M476 507l-4 6M87 25l-1 1M279 405l1 5M469 76l2 4M406 77l1 7M103 325l-3 1M500 183l-6 7M571 384l-4 1M667 98l5 5M50 285l-2 8M518 627l5 2M359 677l1 1M556 273l-2 3M532 336l3 0M614 536l-3 7" stroke="#dfdfdf" stroke-width="5" stroke-linecap="round" fill="none"/>
<path d="M187 428l-1 0M551 541l0 1M68 67l1 2M131 437l-1 3M72 430l3 0M94 122l2 0M60 454l-0 1M307 112l-0 4M323 534l4 1M239 645l0 1M181 440l1 5M377 318l1 1M576 239l2 2M548 178l3 3M557 513l-1 1M91 481l-3 2M291 364l-9 1M313 466l-4 3M506 458l5 4M348 561l4 0M229 131l-2 4M332 538l1 0M67 146l3 6M477 301l-1 1M227 131l-1 1M359 136l6 4M264 241l-6 1M586 115l1 6M156 267l-4 4M311 456l-0 0M311 83l-6 0M310 466l-2 6M173 268l-3 3M637 242l-1 1M634 20l-6 3M482 387l7 0M462 251l-1 4M303 231l2 4M552 471l3 1M130 481l-5 3M198 435l6 5M366 158l-5 2M398 490l-2 1M579 538l-3 1M552 201l-3 1M362 123l6 5M444 110l-3 1M380 673l1 4M59 245l2 9M86 24l-0 0M249 669l-3 1M189 68l-0 1M538 208l-1 1M164 505l-7 3M20 313l0 6M533 362l8 2M592 527l1 1M464 63l2 2M80 577l5 2M320 29l-7 1M302 596l-3 2M661 479l-1 1M593 415l-8 4M530 104l-0 1M308 159l-6 0M655 56l-2 0M326 570l-2 1M393 487l-4 2M472 217l-1 0M391 655l3 0M145 451l7 3M549 531l3 2M328 452l0 1M409 166l1 3M561 548l8 2M13 417l0 3M626 454l1 8M606 123l4 1M32 64l4 5M335 485l-1 2M29 67l-2 3M111 543l-6 1M451 514l7 3M432 513l6 4M558 175l-6 1M133 389l7 1M130 427l3 4" stroke="#dfdfdf" stroke-width="7" stroke-linecap="round" fill="none"/>
<path d="M180 8l-1 5M297 536l-3 1M492 663l1 1M368 488l1 5M543 243l1 4M472 98l-3 4M525 158l-1 8M296 667l-7 3M29 280l-1 6M418 150l2 8M630 115l3 6M556 530l5 5M552 41l1 5M172 65l5 4M620 519l6 1M594 638l4 8M399 98l-1 6M409 54l6 0M441 276l-1 1M377 447l-1 2M582 530l5 5M137 288l-5 6M539 263l-4 5M520 615l-0 0M535 63l-4 3M430 46l-6 3M181 150l0 0M360 196l4 0M475 208l2 2M545 37l-2 3M446 322l2 2M572 255l8 1M135 10l-0 0M418 213l-3 5M222 577l5 7M509 569l2 1M320 612l3 6M125 198l-1 1M567 190l4 4M427 37l7 4M263 414l-0 0M129 259l-9 1M418 3l-2 2M83 398l2 6M535 135l-5 2M31 597l6 0M154 479l5 2M522 176l-2 7M526 198l-3 1M11 482l-6 4M23 501l-3 0M318 108l6 3M93 248l1 1M70 533l3 1M316 535l-4 4M382 626l0 5M46 467l-0 0M306 383l9 0M634 394l-4 2M619 220l-9 2M544 292l-8 1M192 547l-2 1M380 436l-7 2M255 597l1 6M16 570l6 6M602 47l-4 2M43 477l-1 2M639 166l2 3M74 474l7 5" stroke="#dfdfdf" stroke-width="9" stroke-linecap="round" fill="none"/>
<path d="M310 577l2 2M71 675l3 6M507 316l-2 0M600 533l-3 7M452 598l1 1M324 196l-0 0M157 479l0 6M515 493l1 3M502 198l-2 5M215 645l5 3M247 439l-3 3M140 173l4 1M619 44l-5 7M236 192l0 1M589 218l-5 2M353 602l-3 4M422 297l2 3M458 576l7 1M162 164l-1 1M517 115l2 7M27 401l-8 1M470 100l2 2M59 417l0 2M325 22l2 5M159 428l3 1M162 117l-2 0M464 640l6 6M11 75l2 3M240 69l-1 1M467 470l2 2M537 46l4 2M175 309l1 1M463 477l-2 2M51 448l3 3M553 172l2 3M571 523l1 8M373 28l-1 3M312 538l-2 3M529 638l-3 8M18 406l-1 1M221 619l-2 8M576 509l-4 8M385 134l6 3M74 541l1 1M582 166l-0 6M207 319l9 2M155 425l2 5M71 177l-8 3M635 106l1 8M314 253l1 1M509 460l-2 1M132 495l0 0M580 313l-6 4M564 145l-6 7M336 170l-1 6M205 46l2 0M455 305l4 1M665 357l-8 5M524 180l-2 0M589 53l0 2M362 187l-5 3M316 388l0 0M585 235l1 1M421 155l1 2M290 481l5 5M188 230l-0 0M635 464l-1 1M367 67l7 2M333 330l-0 4M199 78l2 4M466 333l0 1M629 430l-0 1M657 77l5 0M430 162l-5 1M676 652l-0 6M89 552l2 2M167 369l-3 7M298 246l-8 2M85 351l-4 1M51 352l-7 5M282 670l0 0M423 57l3 4M538 135l-3 2M625 648l1 1M533 458l6 3M611 639l-8 4M6 659l2 2" stroke="#dfdfdf" stroke-width="11" stroke-linecap="round" fill="none"/>
<path d="M533 95l5 4M634 173l0 0M607 318l-1 1M583 242l-1 1M414 145l6 2M544 470l-3 5M446 93l6 5M82 92l-5 2M228 133l-1 1M154 169l-4 4M136 410l-1 1M600 191l-0 2M43 138l3 6M138 122l-0 0M562 443l5 4M63 330l0 2M101 64l1 1M400 382l-3 2M284 172l3 1M664 39l1 5M335 161l7 4M304 342l-0 0M72 535l1 0M167 624l5 4M228 425l7 4M268 193l2 8M408 678l1 4M533 372l-4 1M229 269l-2 8M399 291l5 2M616 417l-1 6M324 28l-0 4M171 164l-5 0M363 479l-1 1M327 258l-1 4M671 7l-3 4M234 448l2 1M349 604l4 2M495 352l-1 3M379 61l-6 1M444 65l3 3M46 665l-4 2M575 202l1 1M350 218l-0 4M367 91l-3 2M385 490l-3 0M338 63l2 5M207 136l5 1M654 210l-0 0M640 464l1 1" stroke="#ffffff" stroke-width="5" stroke-linecap="round" fill="none"/>
<path d="M108 554l4 2M371 116l8 3M244 530l-0 0M559 224l7 5M192 274l7 4M24 407l-3 4M178 155l5 2M60 3l-1 1M308 394l-5 6M472 496l6 2M262 394l-8 4M477 297l2 8M11 338l5 1M201 143l-4 5M477 208l8 0M333 604l-2 1M262 669l-6 6M250 365l2 0M163 116l0 1M645 335l0 2M260 584l-4 1M13 78l1 1M296 9l-0 1M90 584l-0 0M500 22l-3 4M309 486l-2 0M499 490l-5 1M319 456l-4 5M200 136l-1 2M336 253l1 2M23 635l-2 1M224 133l-4 1M607 186l-9 2M520 166l5 5M486 333l0 0M497 50l7 4M175 506l-2 0M629 152l1 2M30 426l1 0M406 532l-2 1M532 171l-6 5M392 188l7 4M39 106l-0 3M153 554l-1 6M3 354l-0 2M549 20l1 8M97 238l2 8" stroke="#ffffff" stroke-width="7" stroke-linecap="round" fill="none"/>
<path d="M438 84l4 5M517 203l-2 2M536 491l-3 5M15 51l1 7M247 228l4 1M579 284l-5 4M71 14l1 0M619 482l0 0M110 374l0 4M182 255l-2 6M557 192l1 7M14 157l-0 0M533 184l0 0M302 67l-4 4M315 560l-1 1M67 338l-1 1M583 527l-2 3M293 160l6 2M414 605l5 5M40 256l-3 5M586 138l5 2M69 296l-2 5M375 567l3 3M251 215l2 6M128 646l1 9M98 375l5 7M569 183l-1 5M58 78l-5 2M548 309l-2 1M263 511l-2 2M172 17l-3 6M362 102l-6 6M522 264l4 0M621 654l-3 2M528 300l1 1M58 331l-0 0M358 590l-1 1M393 119l-1 8M299 313l-3 5M590 175l-2 4M207 184l-1 1M577 41l8 3" stroke="#ffffff" stroke-width="9" stroke-linecap="round" fill="none"/>
<path d="M361 150l-1 5M204 33l6 0M448 246l-0 0M515 452l-1 1M112 562l-2 6M673 461l1 3M382 390l1 4M207 410l9 2M470 502l-2 4M31 319l-0 1M580 167l-2 2M61 231l-8 1M417 180l4 7M28 512l-5 3M136 142l-2 3M538 451l7 0M340 611l7 3M299 389l-1 7M149 457l2 1M330 628l4 1M383 592l-1 0M103 506l0 1M665 60l3 1M245 106l1 8M39 249l-1 1M611 612l-2 8M415 108l-8 4M626 641l-4 6M484 188l1 1M255 81l-5 0M626 616l-5 0M531 430l-7 3M306 577l-3 3M535 64l2 0M46 21l4 1M152 361l-6 1M226 369l-2 8M637 111l-4 6M651 234l-0 2M631 525l-8 1M350 92l1 8M96 351l-7 1M361 428l7 3M231 311l-0 2M585 557l2 1M360 231l-1 5M567 639l0 1M288 36l0 0M301 109l8 1M559 462l5 7M592 252l-2 7M646 458l8 1M42 123l-6 3M621 63l0 0M263 165l0 0M357 439l1 4" stroke="#ffffff" stroke-width="11" stroke-linecap="round" fill="none"/>
</g>
</svg>
<svg x="326.0" y="252.3" width="89.3" height="89.0" viewBox="8 15 665 663" preserveAspectRatio="none">
<rect x="0" y="0" width="700" height="700" fill="#000"/>
<g filter="url(#soft)">
<ellipse cx="530" cy="240" rx="38" ry="32" fill="#281028"/>
<ellipse cx="100" cy="400" rx="45" ry="45" fill="#281028"/>
<ellipse cx="360" cy="535" rx="45" ry="42" fill="#281028"/>
<ellipse cx="575" cy="490" rx="45" ry="45" fill="#281028"/>
<ellipse cx="265" cy="125" rx="45" ry="32" fill="#091e07"/>
<ellipse cx="525" cy="240" rx="35" ry="32" fill="#0f320c"/>
<ellipse cx="240" cy="268" rx="20" ry="18" fill="#091e07"/>
<ellipse cx="100" cy="400" rx="45" ry="45" fill="#091e07"/>
<ellipse cx="360" cy="535" rx="45" ry="42" fill="#091e07"/>
<ellipse cx="575" cy="495" rx="45" ry="45" fill="#0b2609"/>
<ellipse cx="500" cy="85" rx="20" ry="18" fill="#051304"/>
<ellipse cx="540" cy="610" rx="20" ry="18" fill="#061505"/>
<ellipse cx="360" cy="420" rx="18" ry="15" fill="#061505"/>
<ellipse cx="410" cy="320" rx="15" ry="14" fill="#040f03"/>
<ellipse cx="55" cy="270" rx="10" ry="6" fill="#0f350d"/>
<ellipse cx="430" cy="250" rx="14" ry="14" fill="#030d03"/>
</g><g filter="url(#soft)" style="mix-blend-mode:screen">
<ellipse cx="100" cy="405" rx="5" ry="5" fill="#e040e0"/>
<ellipse cx="108" cy="390" rx="5" ry="5" fill="#e040e0"/>
<ellipse cx="570" cy="490" rx="5" ry="5" fill="#e040e0"/>
<ellipse cx="600" cy="495" rx="5" ry="5" fill="#e040e0"/>
<ellipse cx="360" cy="548" rx="5" ry="5" fill="#e040e0"/>
<ellipse cx="355" cy="520" rx="5" ry="5" fill="#e040e0"/>
<ellipse cx="520" cy="238" rx="5" ry="5" fill="#e040e0"/>
<ellipse cx="450" cy="45" rx="18.0" ry="18.0" fill="url(#nucm)" opacity="0.90"/>
<ellipse cx="500" cy="88" rx="21.6" ry="18.0" fill="url(#nucm)" opacity="0.84"/>
<ellipse cx="595" cy="105" rx="26.4" ry="15.6" fill="url(#nucm)" opacity="0.90"/>
<ellipse cx="50" cy="235" rx="15.6" ry="21.6" fill="url(#nucm)" opacity="0.90"/>
<ellipse cx="58" cy="270" rx="14.4" ry="16.8" fill="url(#nucm)" opacity="0.90"/>
<ellipse cx="245" cy="265" rx="24.0" ry="20.4" fill="url(#nucm)" opacity="0.78"/>
<ellipse cx="400" cy="228" rx="21.6" ry="19.2" fill="url(#nucm)" opacity="0.95"/>
<ellipse cx="435" cy="220" rx="18.0" ry="16.8" fill="url(#nucm)" opacity="0.95"/>
<ellipse cx="430" cy="248" rx="14.4" ry="12.0" fill="url(#nucm)" opacity="0.95"/>
<ellipse cx="438" cy="285" rx="16.8" ry="16.8" fill="url(#nucm)" opacity="0.95"/>
<ellipse cx="412" cy="320" rx="18.0" ry="16.8" fill="url(#nucm)" opacity="0.95"/>
<ellipse cx="365" cy="420" rx="21.6" ry="18.0" fill="url(#nucm)" opacity="0.84"/>
<ellipse cx="20" cy="580" rx="12.0" ry="12.0" fill="url(#nucm)" opacity="0.78"/>
<ellipse cx="80" cy="580" rx="14.4" ry="12.0" fill="url(#nucm)" opacity="0.78"/>
<ellipse cx="545" cy="605" rx="24.0" ry="16.8" fill="url(#nucm)" opacity="0.84"/>
<ellipse cx="575" cy="630" rx="18.0" ry="14.4" fill="url(#nucm)" opacity="0.78"/>
<ellipse cx="175" cy="650" rx="16.8" ry="12.0" fill="url(#nucm)" opacity="0.67"/>
<ellipse cx="400" cy="665" rx="14.4" ry="12.0" fill="url(#nucm)" opacity="0.67"/>
<ellipse cx="665" cy="180" rx="12.0" ry="14.4" fill="url(#nucm)" opacity="0.67"/>
<ellipse cx="515" cy="240" rx="15.6" ry="13.2" fill="url(#nucm)" opacity="0.90"/>
<ellipse cx="548" cy="262" rx="18.0" ry="14.4" fill="url(#nucm)" opacity="0.95"/>
<path d="M133 73l0 0M540 206l0 0M216 589l0 0M467 308l0 0M43 51l0 0M215 535l0 0M364 198l0 0M289 339l0 0M71 575l0 0M218 228l0 0M186 106l0 0M67 274l0 0M485 634l0 0M592 597l0 0M24 637l0 0M660 308l0 0M215 343l0 0M637 674l0 0M631 539l0 0M606 383l0 0M364 235l0 0M229 592l0 0M613 56l0 0M622 493l0 0M442 150l0 0M75 405l0 0M166 424l0 0M437 163l0 0M431 574l0 0M329 381l0 0" stroke="#1c5a14" stroke-width="6" stroke-linecap="round" fill="none"/>
</g>
<polygon points="300.4,100.8 307.9,50.9 342.9,70.3" fill="#eef07e"/>
<polygon points="541.4,211.8 548.9,161.9 583.9,181.3" fill="#eef07e"/>
<polygon points="138.4,371.8 145.9,321.9 180.9,341.3" fill="#eef07e"/>
<polygon points="381.4,503.8 388.9,453.9 423.9,473.3" fill="#eef07e"/>
<polygon points="603.4,459.8 610.9,409.9 645.9,429.3" fill="#eef07e"/>
</svg>
<svg x="51.0" y="344.4" width="89.3" height="89.0" viewBox="8 15 665 663" preserveAspectRatio="none">
<rect x="0" y="0" width="700" height="700" fill="#000"/>
<g filter="url(#soft)">
<ellipse cx="185" cy="145" rx="42" ry="38" fill="#1a1a1a"/>
<ellipse cx="510" cy="235" rx="48" ry="42" fill="#1a1a1a"/>
<ellipse cx="470" cy="440" rx="60" ry="35" fill="#1a1a1a"/>
<ellipse cx="160" cy="590" rx="48" ry="45" fill="#1a1a1a"/>
<ellipse cx="185" cy="165" rx="5" ry="5" fill="#d9d9d9"/>
<ellipse cx="180" cy="130" rx="5" ry="5" fill="#d9d9d9"/>
<ellipse cx="500" cy="215" rx="5" ry="5" fill="#d9d9d9"/>
<ellipse cx="515" cy="260" rx="5" ry="5" fill="#d9d9d9"/>
<ellipse cx="465" cy="440" rx="5" ry="5" fill="#d9d9d9"/>
<ellipse cx="500" cy="455" rx="5" ry="5" fill="#d9d9d9"/>
<ellipse cx="150" cy="590" rx="5" ry="5" fill="#d9d9d9"/>
<ellipse cx="170" cy="570" rx="5" ry="5" fill="#d9d9d9"/>
<ellipse cx="125" cy="65" rx="18.0" ry="15.6" fill="url(#nuc)" opacity="0.84"/>
<ellipse cx="375" cy="95" rx="24.0" ry="24.0" fill="url(#nuc)" opacity="0.90"/>
<ellipse cx="40" cy="210" rx="21.6" ry="18.0" fill="url(#nuc)" opacity="0.90"/>
<ellipse cx="340" cy="200" rx="21.6" ry="18.0" fill="url(#nuc)" opacity="0.90"/>
<ellipse cx="570" cy="265" rx="12.0" ry="10.8" fill="url(#nuc)" opacity="0.67"/>
<ellipse cx="430" cy="365" rx="28.8" ry="18.0" fill="url(#nuc)" opacity="0.84"/>
<ellipse cx="110" cy="395" rx="24.0" ry="21.6" fill="url(#nuc)" opacity="0.95"/>
<ellipse cx="175" cy="385" rx="14.4" ry="14.4" fill="url(#nuc)" opacity="0.67"/>
<ellipse cx="165" cy="440" rx="21.6" ry="18.0" fill="url(#nuc)" opacity="0.95"/>
<ellipse cx="40" cy="515" rx="18.0" ry="20.4" fill="url(#nuc)" opacity="0.90"/>
<ellipse cx="70" cy="495" rx="18.0" ry="14.4" fill="url(#nuc)" opacity="0.84"/>
<ellipse cx="100" cy="520" rx="12.0" ry="9.6" fill="url(#nuc)" opacity="0.67"/>
<ellipse cx="335" cy="510" rx="26.4" ry="26.4" fill="url(#nuc)" opacity="0.95"/>
<ellipse cx="370" cy="562" rx="21.6" ry="19.2" fill="url(#nuc)" opacity="0.95"/>
<ellipse cx="325" cy="580" rx="21.6" ry="16.8" fill="url(#nuc)" opacity="0.78"/>
<ellipse cx="340" cy="610" rx="19.2" ry="14.4" fill="url(#nuc)" opacity="0.84"/>
<ellipse cx="430" cy="615" rx="30.0" ry="24.0" fill="url(#nuc)" opacity="0.90"/>
<ellipse cx="605" cy="485" rx="24.0" ry="21.6" fill="url(#nuc)" opacity="0.90"/>
<ellipse cx="620" cy="330" rx="12.0" ry="10.8" fill="url(#nuc)" opacity="0.45"/>
<ellipse cx="550" cy="670" rx="24.0" ry="14.4" fill="url(#nuc)" opacity="0.84"/>
<ellipse cx="640" cy="655" rx="18.0" ry="14.4" fill="url(#nuc)" opacity="0.78"/>
<ellipse cx="665" cy="585" rx="12.0" ry="12.0" fill="url(#nuc)" opacity="0.67"/>
<ellipse cx="190" cy="20" rx="24.0" ry="12.0" fill="url(#nuc)" opacity="0.84"/>
<ellipse cx="450" cy="40" rx="14.4" ry="12.0" fill="url(#nuc)" opacity="0.67"/>
<ellipse cx="160" cy="280" rx="6.0" ry="6.0" fill="url(#nuc)" opacity="0.67"/>
<ellipse cx="185" cy="145" rx="42" ry="38" fill="none" stroke="#2c2c2c" stroke-width="4"/>
<ellipse cx="510" cy="235" rx="48" ry="42" fill="none" stroke="#2c2c2c" stroke-width="4"/>
<ellipse cx="470" cy="440" rx="60" ry="35" fill="none" stroke="#2c2c2c" stroke-width="4"/>
<ellipse cx="160" cy="590" rx="48" ry="45" fill="none" stroke="#2c2c2c" stroke-width="4"/>
<path d="M131 71l0 0M130 71l0 0M371 104l0 0M379 100l0 0M42 210l0 0M45 210l0 0M345 203l0 0M340 201l0 0M567 266l0 0M428 372l0 0M430 371l0 0M110 391l0 0M115 403l0 0M180 382l0 0M172 446l0 0M173 446l0 0M34 517l0 0M47 523l0 0M74 494l0 0M77 490l0 0M101 518l0 0M343 501l0 0M343 519l0 0M363 565l0 0M369 555l0 0M328 585l0 0M320 576l0 0M345 605l0 0M334 611l0 0M420 609l0 0M435 617l0 0M597 493l0 0M609 483l0 0M623 326l0 0M557 676l0 0M546 668l0 0M640 659l0 0M644 653l0 0M668 580l0 0M197 25l0 0M200 23l0 0M445 40l0 0M162 281l0 0" stroke="#707070" stroke-width="6" stroke-linecap="round" fill="none"/>
</g>
<polygon points="221.4,111.8 228.9,61.9 263.9,81.3" fill="#eef07e"/>
<polygon points="543.4,204.8 550.9,154.9 585.9,174.3" fill="#eef07e"/>
<polygon points="498.4,406.8 505.9,356.9 540.9,376.3" fill="#eef07e"/>
<polygon points="201.4,541.8 208.9,491.9 243.9,511.3" fill="#eef07e"/>
</svg>
<svg x="142.6" y="344.4" width="89.3" height="89.0" viewBox="8 15 665 663" preserveAspectRatio="none">
<rect x="0" y="0" width="700" height="700" fill="#000"/>
<g filter="url(#soft)">
<ellipse cx="180" cy="150" rx="45" ry="40" fill="#606060"/>
<ellipse cx="180" cy="150" rx="42" ry="37" fill="none" stroke="#919191" stroke-width="6"/>
<ellipse cx="510" cy="240" rx="50" ry="45" fill="#606060"/>
<ellipse cx="510" cy="240" rx="47" ry="42" fill="none" stroke="#919191" stroke-width="6"/>
<ellipse cx="470" cy="440" rx="62" ry="35" fill="#676767"/>
<ellipse cx="470" cy="440" rx="59" ry="32" fill="none" stroke="#9b9b9b" stroke-width="6"/>
<ellipse cx="160" cy="590" rx="50" ry="45" fill="#606060"/>
<ellipse cx="160" cy="590" rx="47" ry="42" fill="none" stroke="#919191" stroke-width="6"/>
<ellipse cx="120" cy="65" rx="15" ry="13" fill="#505050"/>
<ellipse cx="370" cy="95" rx="20" ry="20" fill="#454545"/>
<ellipse cx="105" cy="395" rx="18" ry="18" fill="#8a8a8a"/>
<ellipse cx="165" cy="385" rx="15" ry="15" fill="#7e7e7e"/>
<ellipse cx="160" cy="440" rx="15" ry="15" fill="#676767"/>
<ellipse cx="330" cy="510" rx="22" ry="22" fill="#959595"/>
<ellipse cx="425" cy="615" rx="25" ry="20" fill="#8a8a8a"/>
<ellipse cx="600" cy="485" rx="18" ry="18" fill="#737373"/>
<ellipse cx="370" cy="560" rx="15" ry="15" fill="#393939"/>
<ellipse cx="30" cy="210" rx="15" ry="15" fill="#393939"/>
<ellipse cx="630" cy="650" rx="20" ry="20" fill="#7e7e7e"/>
<ellipse cx="620" cy="330" rx="10" ry="10" fill="#2e2e2e"/>
<ellipse cx="185" cy="165" rx="5" ry="5" fill="#cccccc"/>
<ellipse cx="180" cy="130" rx="5" ry="5" fill="#cccccc"/>
<ellipse cx="500" cy="215" rx="5" ry="5" fill="#cccccc"/>
<ellipse cx="515" cy="260" rx="5" ry="5" fill="#cccccc"/>
<ellipse cx="465" cy="440" rx="5" ry="5" fill="#cccccc"/>
<ellipse cx="500" cy="455" rx="5" ry="5" fill="#cccccc"/>
<ellipse cx="150" cy="590" rx="5" ry="5" fill="#cccccc"/>
<ellipse cx="170" cy="570" rx="5" ry="5" fill="#cccccc"/>
<path d="M464 108l0 0M34 499l0 0M458 584l0 0M176 224l0 0M620 89l0 0M377 244l0 0M101 234l0 0M608 56l0 0M136 240l0 0M366 210l0 0M406 74l0 0M391 646l0 0M206 98l0 0M55 556l0 0M147 669l0 0M526 318l0 0M179 481l0 0M121 622l0 0M577 319l0 0M81 479l0 0M447 238l0 0M384 494l0 0" stroke="#202020" stroke-width="6" stroke-linecap="round" fill="none"/>
<path d="M599 500l0 0M501 436l0 0M287 583l0 0M120 9l0 0M570 330l0 0M456 465l0 0M322 640l0 0M257 526l0 0M458 419l0 0M302 67l0 0M391 146l0 0M401 123l0 0M298 484l0 0M181 159l0 0M650 132l0 0M137 507l0 0M214 50l0 0M207 271l0 0" stroke="#404040" stroke-width="6" stroke-linecap="round" fill="none"/>
<path d="M213 135l0 0M206 155l0 0M191 153l0 0M143 147l0 0M188 177l0 0M173 179l0 0M186 156l0 0M182 138l0 0M497 273l0 0M538 227l0 0M470 245l0 0M534 271l0 0M537 253l0 0M453 443l0 0M436 439l0 0M493 457l0 0M143 621l0 0M141 587l0 0M158 594l0 0M139 601l0 0M191 574l0 0" stroke="#606060" stroke-width="7" stroke-linecap="round" fill="none"/>
<path d="M209 147l0 0M204 139l0 0M166 137l0 0M168 146l0 0M210 133l0 0M195 177l0 0M507 247l0 0M505 267l0 0M544 260l0 0M483 256l0 0M517 237l0 0M433 433l0 0M473 419l0 0M473 417l0 0M432 458l0 0M154 566l0 0M124 607l0 0M153 556l0 0M151 565l0 0M157 606l0 0M200 587l0 0M132 604l0 0" stroke="#808080" stroke-width="7" stroke-linecap="round" fill="none"/>
<path d="M196 126l0 0M196 163l0 0M204 162l0 0M177 161l0 0M496 252l0 0M514 236l0 0M503 235l0 0M526 235l0 0M518 220l0 0M546 251l0 0M519 267l0 0M537 242l0 0M449 413l0 0M428 430l0 0M464 422l0 0M512 434l0 0M486 427l0 0M436 436l0 0M504 445l0 0M499 422l0 0M508 430l0 0M159 613l0 0M161 560l0 0M194 610l0 0M159 605l0 0M147 583l0 0M184 565l0 0" stroke="#9f9f9f" stroke-width="7" stroke-linecap="round" fill="none"/>
<path d="M508 451l0 0M421 436l0 0" stroke="#bfbfbf" stroke-width="7" stroke-linecap="round" fill="none"/>
</g>
<polygon points="221.4,111.8 228.9,61.9 263.9,81.3" fill="#eef07e"/>
<polygon points="543.4,204.8 550.9,154.9 585.9,174.3" fill="#eef07e"/>
<polygon points="498.4,406.8 505.9,356.9 540.9,376.3" fill="#eef07e"/>
<polygon points="201.4,541.8 208.9,491.9 243.9,511.3" fill="#eef07e"/>
</svg>
<svg x="234.3" y="344.4" width="89.3" height="89.0" viewBox="8 15 665 663" preserveAspectRatio="none">
<rect x="0" y="0" width="700" height="700" fill="#000"/>
<g filter="url(#soft2)">
<polygon points="60,125 100,110 160,95 215,70 230,55 240,95 275,120 300,160 300,195 250,190 200,215 160,240 130,220 100,180 70,160" fill="#333333"/>
<polygon points="380,230 420,195 470,180 530,175 580,180 615,200 625,250 610,290 580,320 540,300 500,290 440,300 400,290" fill="#2e2e2e"/>
<polygon points="330,400 390,385 450,380 520,370 590,380 625,400 600,440 560,470 520,500 480,480 430,470 380,440" fill="#333333"/>
<polygon points="60,520 110,495 180,490 230,485 250,520 250,590 245,650 200,665 120,665 60,650 40,600" fill="#333333"/>
<path d="M196 136l0 0M222 130l0 0M178 185l0 0M80 142l0 0M227 196l0 0M615 204l0 0M534 250l0 0M568 210l0 0M511 240l0 0M492 179l0 0M482 269l0 0M500 243l0 0M463 407l0 0M439 437l0 0M473 398l0 0M563 443l0 0M556 469l0 0M593 415l0 0M231 525l0 0M203 526l0 0M232 545l0 0M125 565l0 0M123 587l0 0M138 529l0 0M124 563l0 0M112 544l0 0M102 599l0 0M182 631l0 0M225 652l0 0M204 495l0 0" stroke="#202020" stroke-width="8" stroke-linecap="round" fill="none"/>
<path d="M223 118l0 0M66 130l0 0M181 159l0 0M150 191l0 0M269 137l0 0M245 149l0 0M204 110l0 0M164 169l0 0M184 193l0 0M238 136l0 0M260 180l0 0M190 86l0 0M248 136l0 0M211 81l0 0M295 188l0 0M164 221l0 0M161 171l0 0M283 149l0 0M225 124l0 0M528 214l0 0M413 227l0 0M510 228l0 0M440 262l0 0M465 188l0 0M564 275l0 0M485 208l0 0M498 208l0 0M573 222l0 0M551 237l0 0M622 234l0 0M498 196l0 0M485 233l0 0M609 203l0 0M394 261l0 0M589 235l0 0M585 225l0 0M587 243l0 0M487 283l0 0M422 268l0 0M424 285l0 0M400 272l0 0M528 232l0 0M547 202l0 0M440 284l0 0M408 224l0 0M431 405l0 0M505 406l0 0M418 462l0 0M511 485l0 0M454 395l0 0M475 429l0 0M469 381l0 0M409 439l0 0M453 474l0 0M436 425l0 0M401 435l0 0M559 388l0 0M514 389l0 0M452 442l0 0M534 448l0 0M331 401l0 0M445 439l0 0M379 419l0 0M513 416l0 0M429 454l0 0M543 470l0 0M478 473l0 0M417 437l0 0M502 379l0 0M155 535l0 0M66 571l0 0M88 644l0 0M197 544l0 0M207 581l0 0M149 501l0 0M106 642l0 0M138 522l0 0M162 569l0 0M184 530l0 0M111 643l0 0M181 568l0 0M147 663l0 0M156 576l0 0M58 596l0 0M242 582l0 0M153 598l0 0M209 585l0 0M102 576l0 0M206 593l0 0M149 622l0 0M114 653l0 0M41 600l0 0M54 548l0 0M164 642l0 0M89 657l0 0M179 536l0 0M222 554l0 0M234 526l0 0M165 615l0 0M190 516l0 0M232 503l0 0M187 614l0 0M138 655l0 0" stroke="#404040" stroke-width="8" stroke-linecap="round" fill="none"/>
<path d="M235 176l0 0M178 133l0 0M156 144l0 0M221 136l0 0M263 136l0 0M232 94l0 0M143 180l0 0M148 98l0 0M222 177l0 0M164 98l0 0M64 130l0 0M109 119l0 0M91 137l0 0M171 228l0 0M102 131l0 0M130 172l0 0M236 122l0 0M118 160l0 0M242 194l0 0M191 150l0 0M165 179l0 0M427 221l0 0M553 242l0 0M516 257l0 0M559 240l0 0M458 202l0 0M469 227l0 0M612 209l0 0M567 209l0 0M594 216l0 0M582 202l0 0M516 198l0 0M516 271l0 0M436 251l0 0M510 201l0 0M550 215l0 0M478 283l0 0M536 200l0 0M426 279l0 0M500 277l0 0M493 269l0 0M399 263l0 0M480 192l0 0M455 288l0 0M466 275l0 0M504 238l0 0M596 235l0 0M424 289l0 0M464 289l0 0M468 259l0 0M504 278l0 0M546 240l0 0M472 211l0 0M578 379l0 0M424 440l0 0M502 484l0 0M553 381l0 0M487 471l0 0M525 455l0 0M596 417l0 0M462 468l0 0M420 411l0 0M397 413l0 0M543 476l0 0M568 447l0 0M404 453l0 0M497 416l0 0M536 414l0 0M428 399l0 0M488 436l0 0M383 400l0 0M481 443l0 0M559 379l0 0M579 434l0 0M422 391l0 0M147 558l0 0M128 539l0 0M210 653l0 0M131 618l0 0M103 536l0 0M128 640l0 0M78 527l0 0M167 604l0 0M112 598l0 0M126 564l0 0M179 583l0 0M241 568l0 0M149 597l0 0M179 663l0 0M131 494l0 0M102 594l0 0M134 540l0 0M127 662l0 0M91 640l0 0M108 522l0 0M127 654l0 0M121 508l0 0M210 594l0 0M107 612l0 0" stroke="#606060" stroke-width="8" stroke-linecap="round" fill="none"/>
<path d="M380 301l2 2M432 33l0 2M80 285l-1 2M541 595l-0 0M561 336l0 7M645 400l-4 1" stroke="#808080" stroke-width="5" stroke-linecap="round" fill="none"/>
<path d="M72 141l-0 1M178 604l3 4M190 79l-8 2M434 181l1 8M460 290l1 7M535 218l-8 3M174 634l-1 1M472 365l1 3M433 371l2 3M630 450l-6 3M450 512l-1 6" stroke="#808080" stroke-width="7" stroke-linecap="round" fill="none"/>
<path d="M169 208l0 0M273 151l0 0M63 133l0 0M113 107l0 0M181 152l0 0M149 148l0 0M211 109l0 0M232 144l0 0M117 135l0 0M246 166l0 0M261 140l0 0M153 229l0 0M86 119l0 0M187 100l0 0M189 99l0 0M159 119l0 0M504 250l0 0M508 180l0 0M557 230l0 0M541 251l0 0M481 200l0 0M591 190l0 0M459 286l0 0M422 254l0 0M536 273l0 0M503 250l0 0M405 235l0 0M495 223l0 0M403 279l0 0M556 247l0 0M451 222l0 0M483 260l0 0M531 235l0 0M458 253l0 0M403 252l0 0M496 185l0 0M623 242l0 0M529 408l0 0M582 441l0 0M564 461l0 0M420 451l0 0M404 433l0 0M403 415l0 0M503 415l0 0M436 455l0 0M417 454l0 0M389 420l0 0M149 524l0 0M244 617l0 0M187 639l0 0M115 561l0 0M149 564l0 0M221 510l0 0M151 557l0 0M99 598l0 0M72 580l0 0M224 583l0 0M127 503l0 0M232 603l0 0M173 642l0 0M169 566l0 0M180 578l0 0M140 596l0 0M243 526l0 0M107 553l0 0M104 523l0 0M234 595l0 0M169 513l0 0M243 558l0 0M179 640l0 0M97 537l0 0M229 653l0 0M160 507l0 0M131 577l0 0M190 499l0 0M91 602l0 0M76 647l0 0M181 507l0 0" stroke="#808080" stroke-width="8" stroke-linecap="round" fill="none"/>
<path d="M164 77l1 8M451 272l5 2M133 347l-1 0M242 495l-3 4M503 370l-0 3M158 95l9 2M521 301l-5 7M424 389l-4 1M37 322l1 8M243 335l-5 2M116 660l3 0M65 594l-2 9" stroke="#808080" stroke-width="9" stroke-linecap="round" fill="none"/>
<path d="M69 583l-1 8M101 11l-1 0M201 672l7 4M518 513l5 1M120 241l4 6M491 190l3 8M550 390l-2 2M239 507l-2 1M242 82l-0 2" stroke="#808080" stroke-width="11" stroke-linecap="round" fill="none"/>
<path d="M551 519l6 1M103 505l-5 4M131 401l-2 1M422 379l6 6M630 481l3 2M192 463l0 0M369 677l2 3M433 226l-1 2M493 105l3 2M77 653l4 4M252 501l-6 5M639 427l6 1M488 644l1 0M595 536l3 5M98 606l-0 2M215 197l-2 8M582 86l5 8M480 292l-0 0M346 391l8 1M602 438l-1 6M491 283l-0 0M69 256l5 3M493 5l-1 0M555 166l-0 3M372 438l-2 1M271 580l1 1M168 236l5 0M240 83l-1 1M60 644l0 4M341 64l2 2" stroke="#9f9f9f" stroke-width="5" stroke-linecap="round" fill="none"/>
<path d="M178 466l-5 3M232 114l4 7M9 132l-4 3M405 361l-1 5M606 240l-5 7M170 604l-1 6M357 236l1 3M467 214l-3 0M137 431l-3 4M560 2l-0 2M138 230l0 4M251 638l-1 1M118 87l-2 3M222 78l2 2M114 346l-5 3M377 631l7 6M595 306l4 0M216 661l1 1M594 250l-7 1M203 214l0 1M107 323l2 7M369 445l-6 0M477 180l-4 4M160 152l1 0M329 475l-3 2M472 568l0 3M417 200l-3 2M165 660l1 3M18 389l7 1M564 296l6 1M427 24l3 6M149 286l-6 5M408 583l-1 2" stroke="#9f9f9f" stroke-width="7" stroke-linecap="round" fill="none"/>
<path d="M431 376l-9 1M361 127l7 1M336 14l4 7M257 642l-0 0M362 513l2 1M219 207l-0 2M215 465l-7 5M62 429l1 1M388 671l-1 1M71 257l-0 0M84 533l-1 1M586 189l-1 1M417 301l-2 0M277 346l2 3M457 305l1 0M383 582l4 0M443 487l3 2M52 594l2 0M543 468l3 2M507 672l7 4M582 224l-8 2M285 301l-4 6M524 480l-1 4M37 275l0 5M383 389l-8 2M614 443l2 5M310 573l1 6M75 215l0 5M597 192l0 1M222 155l8 1M249 515l-3 4M263 279l-2 2" stroke="#9f9f9f" stroke-width="9" stroke-linecap="round" fill="none"/>
<path d="M161 437l1 4M150 90l1 2M397 583l-4 5M375 579l3 2M72 156l0 2M192 340l-1 5M104 654l5 0M89 193l-1 0M572 673l-0 0M222 119l3 8M657 296l4 4M593 332l1 3M403 371l-7 5M67 342l-0 3M628 246l4 3M529 295l-4 4M49 604l4 4M77 496l2 6M28 140l-0 1M435 207l-5 1M614 424l-1 1M272 522l0 1M251 605l-2 1M432 585l-0 0M578 440l-0 6M138 490l-8 3M78 85l2 0M500 448l-3 4M233 159l-3 0M315 152l1 1M480 488l-3 8M480 70l-4 1M199 507l-0 0M131 336l-2 3" stroke="#9f9f9f" stroke-width="11" stroke-linecap="round" fill="none"/>
<path d="M65 171l1 0M565 316l-1 3M624 287l-2 8M338 395l1 0M121 420l-0 4M411 381l2 3M630 667l-5 7M369 147l-3 1M496 573l1 0M56 579l1 0M62 398l-7 3M346 406l1 3M223 675l8 2M158 501l-1 2M23 615l-0 6M670 299l-5 5M520 219l-1 0M391 292l-4 6M108 231l-3 5M532 17l-4 1M273 418l1 0M529 566l2 1M625 268l-4 1M40 159l-5 2M413 464l-4 0M292 483l-7 4M541 151l3 2M206 427l-4 3M399 226l5 5M200 538l-2 3M454 388l-3 7M559 480l0 2M454 309l1 8M494 167l1 8M1 353l3 0M240 73l-2 0M333 383l2 1M633 247l3 1M573 466l0 2M482 191l-2 6M386 277l1 1M625 232l-5 5M464 544l-6 1M335 467l2 2" stroke="#bfbfbf" stroke-width="5" stroke-linecap="round" fill="none"/>
<path d="M168 468l-1 4M146 118l-0 2M266 206l-2 1M114 91l2 3M331 36l-1 4M88 664l3 2M391 245l6 0M279 189l-1 1M288 154l-2 2M349 127l-2 8M317 444l0 0M357 272l1 1M87 656l5 0M352 234l-6 6M641 243l1 1M406 335l8 1M281 533l-6 6M526 95l1 6M483 255l-8 1M78 647l3 1M151 101l2 0M425 276l3 2M435 675l-4 2M338 142l-0 1M442 641l-2 3M52 528l-2 0M637 674l5 4M472 467l5 3M514 521l-0 3M169 632l1 2M425 212l3 2M161 518l-1 6M129 343l2 1M268 542l0 0M132 429l1 1M607 369l8 5M285 116l4 2M206 577l3 8M344 414l-1 1M427 200l-3 2" stroke="#bfbfbf" stroke-width="7" stroke-linecap="round" fill="none"/>
<path d="M319 154l-1 0M82 505l-1 7M132 518l6 6M447 626l-5 6M589 385l-4 3M599 381l-1 1M386 674l-2 1M439 309l5 4M659 238l-7 3M219 283l4 1M546 181l1 0M246 519l1 7M599 393l1 3M628 415l1 1M461 174l-8 0M441 617l4 3M142 392l1 0M380 434l-3 5M587 299l8 3M466 301l1 4M314 139l-4 7M228 81l0 4M368 61l-5 5M364 423l1 1M401 167l-1 4M132 536l4 3M589 150l-2 3M166 553l-0 1M371 320l-0 3M489 158l-2 1M212 210l6 2M427 23l1 0M113 499l2 4M386 456l-7 1M594 577l7 0M505 504l-3 1M360 325l-6 1M228 393l1 0M588 554l0 8M500 181l-5 7M501 297l2 5M102 41l3 4M376 218l-0 8M506 395l-1 3" stroke="#bfbfbf" stroke-width="9" stroke-linecap="round" fill="none"/>
<path d="M421 247l-1 0M620 459l-2 3M245 456l-0 5M233 499l-7 1M216 81l-6 1M113 62l-2 6M102 494l-1 3M244 510l4 7M408 561l-4 5M280 665l5 1M309 481l7 3M114 475l1 1M500 180l-8 2M578 305l2 0M26 110l0 1M255 597l3 5M473 485l7 1M163 579l6 2M406 654l-4 6M419 455l0 0M274 165l-3 0M284 191l-1 0M653 17l-2 8M578 471l-1 0M188 602l-3 8M351 415l-3 2M275 673l2 4M503 179l3 6M249 623l-5 3M124 603l0 3M303 475l3 4M147 480l0 2M59 514l4 0M574 451l-0 0M148 241l1 0M607 300l3 1M220 594l5 4M204 156l4 0M528 488l-4 6M386 265l4 0" stroke="#bfbfbf" stroke-width="11" stroke-linecap="round" fill="none"/>
<path d="M355 439l0 0M479 617l-3 6M334 412l-4 7M206 78l-2 6M92 497l-6 1M523 489l8 2M515 240l3 4M501 66l-5 3M177 638l-0 0M663 284l-1 4M680 478l1 0M457 223l3 4M158 665l-0 6M620 268l1 8M104 575l-7 3M569 453l2 2M178 503l-2 6M36 357l6 2M426 406l0 0M399 303l-5 5M409 652l-2 5M477 267l5 3M11 494l4 2M343 406l5 0M383 231l0 0M522 306l6 2M604 225l-3 1M0 153l5 3M612 244l-2 2M628 648l0 1M583 307l1 5M357 65l-5 3M115 96l-0 0M214 112l-0 1M602 384l3 2M663 344l4 2M225 131l8 0M647 389l-1 4M556 370l-1 2M590 189l-5 4M166 647l0 6M179 227l2 3M427 387l2 9M386 412l-0 0M171 77l-8 4M203 241l-0 0M380 518l5 3M457 400l1 1M290 138l0 0M479 588l-5 4M118 471l1 8M79 203l-4 3" stroke="#dfdfdf" stroke-width="5" stroke-linecap="round" fill="none"/>
<path d="M398 392l4 8M375 421l-6 6M367 344l5 1M187 8l-5 6M348 487l5 4M349 390l-5 4M651 370l1 2M548 496l-1 7M511 485l3 6M160 200l-1 1M215 62l4 1M648 280l5 7M87 491l-4 2M601 509l1 1M383 380l6 6M222 668l-0 0M391 232l1 4M386 268l-3 1M44 113l0 0M197 211l2 2M132 94l0 0M419 243l-1 5M86 94l0 0M601 443l-0 0M314 317l-7 4M159 327l-0 1M236 567l-4 6M414 654l-8 0M447 284l-1 0M269 600l-0 1M2 233l-4 5M211 82l1 3M88 497l-2 8M240 638l6 0M403 450l3 7M233 329l4 1M624 263l1 1M395 190l-6 2M103 326l-4 1M625 429l1 6M173 669l-0 8M616 288l2 2M397 493l-5 3M230 202l-7 0M623 438l-0 0M347 85l-2 1M316 616l-1 4M388 238l3 8M504 513l2 1M454 374l3 8M351 391l3 1M582 559l4 1M493 165l-1 0M444 259l4 7M396 37l-8 3" stroke="#dfdfdf" stroke-width="7" stroke-linecap="round" fill="none"/>
<path d="M96 180l8 0M622 671l3 0M150 226l0 0M173 614l-1 6M545 382l1 0M241 72l1 2M90 520l4 2M173 545l2 3M234 535l-1 8M99 348l-0 3M200 92l4 2M453 431l2 4M397 284l-1 1M579 154l-6 2M118 332l1 0M234 192l2 1M410 461l-1 7M456 626l-1 0M259 428l4 6M55 123l0 0M76 115l1 9M467 50l-1 3M146 265l2 4M143 57l1 0M329 418l2 1M421 445l-3 1M678 62l-3 1M512 490l-3 4M6 389l3 1M243 197l-2 2M618 380l-4 1M488 30l-6 5M455 346l-2 2M162 429l-0 3M500 349l-5 0M206 247l-4 2M657 125l5 3M51 283l-3 2M608 600l-0 4M187 498l-5 1M399 594l-2 5M320 343l-0 0M46 600l5 2M543 110l-2 3M52 357l3 8M283 204l-0 5M4 402l7 4M609 114l-5 2M344 657l-7 6" stroke="#dfdfdf" stroke-width="9" stroke-linecap="round" fill="none"/>
<path d="M268 206l1 0M417 95l2 1M470 299l4 8M294 131l-1 4M459 196l-1 7M311 149l-2 0M278 109l-0 0M378 596l0 5M338 383l6 5M153 553l-6 4M167 247l4 7M61 615l2 1M262 605l1 7M427 59l3 0M216 508l-1 1M109 652l-0 0M366 439l7 1M298 191l-1 1M577 294l4 1M245 650l-4 2M52 573l3 0M274 184l1 1M240 499l-6 6M9 608l-1 5M623 279l-0 1M343 401l4 1M347 366l1 3M628 10l1 4M24 473l-7 2M42 285l8 3M370 457l-9 2M534 124l4 7M651 254l-5 5M34 485l2 1M297 501l0 2M503 495l2 3M501 485l-1 9M363 220l-2 1M65 618l4 7M538 554l3 4M616 327l-5 1M166 64l7 1M440 301l0 0M320 139l4 6M279 115l2 9M66 620l6 2" stroke="#dfdfdf" stroke-width="11" stroke-linecap="round" fill="none"/>
<path d="M212 65l3 2M475 125l0 0M573 181l-1 3M472 358l2 2M138 655l-3 5M449 201l4 3M587 379l0 0M241 652l-1 6M173 391l-0 6M483 467l8 0M119 103l-0 0M105 3l-2 2M235 185l-3 2M475 481l1 0M105 290l1 0M12 574l2 5M428 170l5 5M406 207l-6 6M449 380l-3 5M373 221l-7 0M47 616l-3 2M287 109l2 8M384 249l-0 3M246 107l0 8" stroke="#ffffff" stroke-width="5" stroke-linecap="round" fill="none"/>
<path d="M667 363l0 2M603 192l-2 8M205 41l3 6M321 576l1 1M156 103l-8 4M145 461l8 1M226 166l-1 3M366 519l5 0M586 162l-5 6M521 439l-1 5M513 677l4 5M155 106l-4 3M402 405l3 1M240 655l-1 5M244 533l2 2M677 205l5 7M117 2l-8 1M277 189l-1 1M337 640l6 3M64 534l4 7M509 315l-5 7M5 489l-1 1M35 635l-2 9" stroke="#ffffff" stroke-width="7" stroke-linecap="round" fill="none"/>
<path d="M17 109l-2 2M469 51l-7 2M616 470l-3 3M33 326l-1 7M23 541l-4 1M25 535l-5 3M448 202l-5 4M77 160l-2 5M224 591l-4 1M178 95l1 0M518 657l-3 1M300 210l1 1M235 643l-5 4M458 88l-1 2M450 479l-1 0M323 351l4 8M119 104l5 2M621 300l-5 5M158 1l-4 4M603 404l-0 0M565 330l1 1M145 292l-2 7M257 596l-4 6M203 513l8 2M628 669l4 1M680 491l-5 2M502 495l2 1M251 107l1 1M23 563l-4 1" stroke="#ffffff" stroke-width="9" stroke-linecap="round" fill="none"/>
<path d="M59 536l7 1M62 188l-2 2M105 162l-0 0M349 134l3 2M229 640l5 3M381 426l-5 3M285 144l4 4M527 279l-2 0M546 437l0 1M624 386l-6 5M229 364l-1 0M15 347l-6 0M17 477l-3 2M92 524l3 1M207 481l-0 2M627 441l-2 1M504 493l-0 0M474 94l-3 4M614 242l-3 6M41 278l0 0M171 211l-1 7M401 305l-3 3M21 468l1 1M309 474l-0 3M527 170l7 3M80 171l4 0M218 505l2 3M32 491l-1 4M214 60l4 4M235 81l2 3M532 497l2 6M591 455l1 3M366 402l2 3M407 260l-6 5M553 64l-5 3M456 381l3 3M113 118l3 5" stroke="#ffffff" stroke-width="11" stroke-linecap="round" fill="none"/>
</g>
</svg>
<svg x="326.0" y="344.4" width="89.3" height="89.0" viewBox="8 15 665 663" preserveAspectRatio="none">
<rect x="0" y="0" width="700" height="700" fill="#000"/>
<g filter="url(#soft)">
<ellipse cx="185" cy="145" rx="42" ry="38" fill="#281028"/>
<ellipse cx="510" cy="235" rx="48" ry="42" fill="#281028"/>
<ellipse cx="470" cy="440" rx="60" ry="35" fill="#281028"/>
<ellipse cx="160" cy="590" rx="48" ry="45" fill="#281028"/>
<ellipse cx="180" cy="150" rx="45" ry="40" fill="#1a5916"/>
<ellipse cx="180" cy="150" rx="43" ry="38" fill="none" stroke="#287323" stroke-width="6" opacity=".8"/>
<ellipse cx="510" cy="240" rx="50" ry="45" fill="#1a5916"/>
<ellipse cx="510" cy="240" rx="48" ry="43" fill="none" stroke="#287323" stroke-width="6" opacity=".8"/>
<ellipse cx="470" cy="440" rx="62" ry="35" fill="#1c6018"/>
<ellipse cx="470" cy="440" rx="60" ry="33" fill="none" stroke="#2b7c26" stroke-width="6" opacity=".8"/>
<ellipse cx="160" cy="590" rx="50" ry="45" fill="#1a5916"/>
<ellipse cx="160" cy="590" rx="48" ry="43" fill="none" stroke="#287323" stroke-width="6" opacity=".8"/>
<ellipse cx="120" cy="65" rx="15" ry="13" fill="#164a12"/>
<ellipse cx="370" cy="95" rx="20" ry="20" fill="#134010"/>
<ellipse cx="105" cy="395" rx="18" ry="18" fill="#268020"/>
<ellipse cx="105" cy="395" rx="16" ry="16" fill="none" stroke="#39a633" stroke-width="6" opacity=".8"/>
<ellipse cx="165" cy="385" rx="15" ry="15" fill="#23751d"/>
<ellipse cx="165" cy="385" rx="13" ry="13" fill="none" stroke="#34982e" stroke-width="6" opacity=".8"/>
<ellipse cx="160" cy="440" rx="15" ry="15" fill="#1c6018"/>
<ellipse cx="160" cy="440" rx="13" ry="13" fill="none" stroke="#2b7c26" stroke-width="6" opacity=".8"/>
<ellipse cx="330" cy="510" rx="22" ry="22" fill="#298b22"/>
<ellipse cx="330" cy="510" rx="20" ry="20" fill="none" stroke="#3eb437" stroke-width="6" opacity=".8"/>
<ellipse cx="425" cy="615" rx="25" ry="20" fill="#268020"/>
<ellipse cx="425" cy="615" rx="23" ry="18" fill="none" stroke="#39a633" stroke-width="6" opacity=".8"/>
<ellipse cx="600" cy="485" rx="18" ry="18" fill="#206b1a"/>
<ellipse cx="600" cy="485" rx="16" ry="16" fill="none" stroke="#308b2a" stroke-width="6" opacity=".8"/>
<ellipse cx="370" cy="560" rx="15" ry="15" fill="#0f350d"/>
<ellipse cx="30" cy="210" rx="15" ry="15" fill="#0f350d"/>
<ellipse cx="630" cy="650" rx="20" ry="20" fill="#23751d"/>
<ellipse cx="630" cy="650" rx="18" ry="18" fill="none" stroke="#34982e" stroke-width="6" opacity=".8"/>
<ellipse cx="620" cy="330" rx="10" ry="10" fill="#0c2a0a"/>
</g><g filter="url(#soft)" style="mix-blend-mode:screen">
<ellipse cx="185" cy="165" rx="5" ry="5" fill="#e040e0"/>
<ellipse cx="180" cy="130" rx="5" ry="5" fill="#e040e0"/>
<ellipse cx="500" cy="215" rx="5" ry="5" fill="#e040e0"/>
<ellipse cx="515" cy="260" rx="5" ry="5" fill="#e040e0"/>
<ellipse cx="465" cy="440" rx="5" ry="5" fill="#e040e0"/>
<ellipse cx="500" cy="455" rx="5" ry="5" fill="#e040e0"/>
<ellipse cx="150" cy="590" rx="5" ry="5" fill="#e040e0"/>
<ellipse cx="170" cy="570" rx="5" ry="5" fill="#e040e0"/>
<ellipse cx="125" cy="65" rx="18.0" ry="15.6" fill="url(#nucm)" opacity="0.84"/>
<ellipse cx="375" cy="95" rx="24.0" ry="24.0" fill="url(#nucm)" opacity="0.90"/>
<ellipse cx="40" cy="210" rx="21.6" ry="18.0" fill="url(#nucm)" opacity="0.90"/>
<ellipse cx="340" cy="200" rx="21.6" ry="18.0" fill="url(#nucm)" opacity="0.90"/>
<ellipse cx="570" cy="265" rx="12.0" ry="10.8" fill="url(#nucm)" opacity="0.67"/>
<ellipse cx="430" cy="365" rx="28.8" ry="18.0" fill="url(#nucm)" opacity="0.84"/>
<ellipse cx="110" cy="395" rx="24.0" ry="21.6" fill="url(#nucm)" opacity="0.95"/>
<ellipse cx="175" cy="385" rx="14.4" ry="14.4" fill="url(#nucm)" opacity="0.67"/>
<ellipse cx="165" cy="440" rx="21.6" ry="18.0" fill="url(#nucm)" opacity="0.95"/>
<ellipse cx="40" cy="515" rx="18.0" ry="20.4" fill="url(#nucm)" opacity="0.90"/>
<ellipse cx="70" cy="495" rx="18.0" ry="14.4" fill="url(#nucm)" opacity="0.84"/>
<ellipse cx="100" cy="520" rx="12.0" ry="9.6" fill="url(#nucm)" opacity="0.67"/>
<ellipse cx="335" cy="510" rx="26.4" ry="26.4" fill="url(#nucm)" opacity="0.95"/>
<ellipse cx="370" cy="562" rx="21.6" ry="19.2" fill="url(#nucm)" opacity="0.95"/>
<ellipse cx="325" cy="580" rx="21.6" ry="16.8" fill="url(#nucm)" opacity="0.78"/>
<ellipse cx="340" cy="610" rx="19.2" ry="14.4" fill="url(#nucm)" opacity="0.84"/>
<ellipse cx="430" cy="615" rx="30.0" ry="24.0" fill="url(#nucm)" opacity="0.90"/>
<ellipse cx="605" cy="485" rx="24.0" ry="21.6" fill="url(#nucm)" opacity="0.90"/>
<ellipse cx="620" cy="330" rx="12.0" ry="10.8" fill="url(#nucm)" opacity="0.45"/>
<ellipse cx="550" cy="670" rx="24.0" ry="14.4" fill="url(#nucm)" opacity="0.84"/>
<ellipse cx="640" cy="655" rx="18.0" ry="14.4" fill="url(#nucm)" opacity="0.78"/>
<ellipse cx="665" cy="585" rx="12.0" ry="12.0" fill="url(#nucm)" opacity="0.67"/>
<ellipse cx="190" cy="20" rx="24.0" ry="12.0" fill="url(#nucm)" opacity="0.84"/>
<ellipse cx="450" cy="40" rx="14.4" ry="12.0" fill="url(#nucm)" opacity="0.67"/>
<ellipse cx="160" cy="280" rx="6.0" ry="6.0" fill="url(#nucm)" opacity="0.67"/>
<path d="M111 370l0 0M350 65l0 0M28 338l0 0M487 245l0 0M438 176l0 0M494 541l0 0M363 625l0 0M278 257l0 0M6 256l0 0M520 525l0 0M292 302l0 0M413 37l0 0M355 576l0 0M86 53l0 0M338 415l0 0M257 283l0 0M636 675l0 0M667 117l0 0M218 180l0 0M617 419l0 0M378 59l0 0M541 664l0 0M156 198l0 0M8 573l0 0M160 115l0 0M592 459l0 0M302 165l0 0M650 233l0 0M502 435l0 0M264 662l0 0" stroke="#1c5a14" stroke-width="6" stroke-linecap="round" fill="none"/>
<path d="M218 150l0 0M167 170l0 0M164 143l0 0M211 139l0 0M203 145l0 0M152 150l0 0M196 160l0 0M160 123l0 0M200 158l0 0M156 149l0 0M179 164l0 0M177 158l0 0M178 158l0 0M202 131l0 0M486 241l0 0M499 220l0 0M531 210l0 0M513 267l0 0M482 269l0 0M511 247l0 0M517 277l0 0M483 218l0 0M474 242l0 0M482 252l0 0M488 212l0 0M542 229l0 0M518 226l0 0M522 275l0 0M503 448l0 0M472 462l0 0M454 467l0 0M508 456l0 0M502 435l0 0M484 418l0 0M476 461l0 0M491 452l0 0M490 446l0 0M498 426l0 0M494 425l0 0M457 459l0 0M437 462l0 0M493 443l0 0M166 617l0 0M149 599l0 0M129 567l0 0M136 584l0 0M139 590l0 0M183 596l0 0M132 613l0 0M127 609l0 0M178 604l0 0M177 620l0 0M176 615l0 0M124 589l0 0M137 587l0 0M188 582l0 0" stroke="#4cb040" stroke-width="7" stroke-linecap="round" fill="none"/>
</g>
<polygon points="221.4,111.8 228.9,61.9 263.9,81.3" fill="#eef07e"/>
<polygon points="543.4,204.8 550.9,154.9 585.9,174.3" fill="#eef07e"/>
<polygon points="498.4,406.8 505.9,356.9 540.9,376.3" fill="#eef07e"/>
<polygon points="201.4,541.8 208.9,491.9 243.9,511.3" fill="#eef07e"/>
</svg>
<svg x="51.0" y="493.8" width="89.3" height="89.0" viewBox="8 15 665 663" preserveAspectRatio="none">
<rect x="0" y="0" width="700" height="700" fill="#000"/>
<g filter="url(#soft)">
<ellipse cx="235" cy="215" rx="45" ry="45" fill="#1a1a1a"/>
<ellipse cx="485" cy="490" rx="48" ry="45" fill="#1a1a1a"/>
<ellipse cx="240" cy="210" rx="5" ry="5" fill="#d9d9d9"/>
<ellipse cx="220" cy="230" rx="5" ry="5" fill="#d9d9d9"/>
<ellipse cx="480" cy="490" rx="5" ry="5" fill="#d9d9d9"/>
<ellipse cx="500" cy="505" rx="5" ry="5" fill="#d9d9d9"/>
<ellipse cx="185" cy="115" rx="21.6" ry="18.0" fill="url(#nuc)" opacity="0.84"/>
<ellipse cx="215" cy="90" rx="26.4" ry="26.4" fill="url(#nuc)" opacity="0.90"/>
<ellipse cx="175" cy="128" rx="18.0" ry="16.8" fill="url(#nuc)" opacity="0.78"/>
<ellipse cx="355" cy="115" rx="24.0" ry="18.0" fill="url(#nuc)" opacity="0.73"/>
<ellipse cx="110" cy="195" rx="24.0" ry="21.6" fill="url(#nuc)" opacity="0.95"/>
<ellipse cx="110" cy="232" rx="21.6" ry="19.2" fill="url(#nuc)" opacity="0.95"/>
<ellipse cx="395" cy="190" rx="24.0" ry="21.6" fill="url(#nuc)" opacity="0.95"/>
<ellipse cx="525" cy="120" rx="26.4" ry="24.0" fill="url(#nuc)" opacity="0.90"/>
<ellipse cx="580" cy="80" rx="16.8" ry="24.0" fill="url(#nuc)" opacity="0.95"/>
<ellipse cx="530" cy="190" rx="26.4" ry="24.0" fill="url(#nuc)" opacity="0.95"/>
<ellipse cx="510" cy="240" rx="24.0" ry="19.2" fill="url(#nuc)" opacity="0.84"/>
<ellipse cx="620" cy="185" rx="30.0" ry="24.0" fill="url(#nuc)" opacity="0.95"/>
<ellipse cx="645" cy="140" rx="21.6" ry="21.6" fill="url(#nuc)" opacity="0.90"/>
<ellipse cx="635" cy="265" rx="21.6" ry="19.2" fill="url(#nuc)" opacity="0.95"/>
<ellipse cx="290" cy="275" rx="12.0" ry="12.0" fill="url(#nuc)" opacity="0.34"/>
<ellipse cx="320" cy="225" rx="9.6" ry="14.4" fill="url(#nuc)" opacity="0.34"/>
<ellipse cx="220" cy="415" rx="18.0" ry="24.0" fill="url(#nuc)" opacity="0.78"/>
<ellipse cx="275" cy="465" rx="16.8" ry="24.0" fill="url(#nuc)" opacity="0.90"/>
<ellipse cx="325" cy="455" rx="24.0" ry="21.6" fill="url(#nuc)" opacity="0.95"/>
<ellipse cx="335" cy="495" rx="24.0" ry="21.6" fill="url(#nuc)" opacity="0.95"/>
<ellipse cx="660" cy="455" rx="16.8" ry="19.2" fill="url(#nuc)" opacity="0.84"/>
<ellipse cx="60" cy="440" rx="18.0" ry="14.4" fill="url(#nuc)" opacity="0.17"/>
<ellipse cx="520" cy="635" rx="12.0" ry="9.6" fill="url(#nuc)" opacity="0.17"/>
<ellipse cx="235" cy="215" rx="45" ry="45" fill="none" stroke="#2c2c2c" stroke-width="4"/>
<ellipse cx="485" cy="490" rx="48" ry="45" fill="none" stroke="#2c2c2c" stroke-width="4"/>
<path d="M183 111l0 0M180 108l0 0M214 99l0 0M220 87l0 0M172 132l0 0M180 125l0 0M350 111l0 0M361 115l0 0M113 198l0 0M116 196l0 0M101 235l0 0M105 238l0 0M397 193l0 0M399 196l0 0M532 128l0 0M532 115l0 0M583 77l0 0M584 81l0 0M532 182l0 0M523 183l0 0M502 246l0 0M518 238l0 0M619 186l0 0M625 177l0 0M654 132l0 0M638 144l0 0M632 267l0 0M636 265l0 0M290 278l0 0M319 228l0 0M221 423l0 0M214 411l0 0M268 456l0 0M276 464l0 0M319 449l0 0M319 462l0 0M336 494l0 0M336 494l0 0M660 448l0 0M667 456l0 0M63 445l0 0M54 435l0 0M517 632l0 0" stroke="#707070" stroke-width="6" stroke-linecap="round" fill="none"/>
</g>
<polygon points="255.4,164.8 262.9,114.9 297.9,134.3" fill="#eef07e"/>
<polygon points="513.4,454.8 520.9,404.9 555.9,424.3" fill="#eef07e"/>
</svg>
<svg x="142.6" y="493.8" width="89.3" height="89.0" viewBox="8 15 665 663" preserveAspectRatio="none">
<rect x="0" y="0" width="700" height="700" fill="#000"/>
<g filter="url(#soft)">
<ellipse cx="235" cy="215" rx="40" ry="40" fill="#070707"/>
<ellipse cx="485" cy="490" rx="40" ry="40" fill="#070707"/>
<ellipse cx="240" cy="210" rx="4" ry="4" fill="#4c4c4c"/>
<ellipse cx="220" cy="230" rx="4" ry="4" fill="#4c4c4c"/>
<ellipse cx="480" cy="490" rx="4" ry="4" fill="#4c4c4c"/>
<ellipse cx="500" cy="505" rx="4" ry="4" fill="#4c4c4c"/>
<path d="M403 490l0 0M629 598l0 0M375 270l0 0M185 62l0 0M529 343l0 0M157 135l0 0M649 601l0 0M312 154l0 0M124 143l0 0M240 51l0 0M82 327l0 0M630 542l0 0M365 58l0 0M557 60l0 0M161 143l0 0M150 635l0 0M493 610l0 0M529 455l0 0M35 226l0 0M355 240l0 0M214 93l0 0M593 312l0 0M144 145l0 0M641 190l0 0M11 276l0 0" stroke="#202020" stroke-width="6" stroke-linecap="round" fill="none"/>
<path d="M133 267l0 0M458 647l0 0M483 217l0 0M632 23l0 0M152 358l0 0M287 613l0 0M442 163l0 0M608 347l0 0M54 52l0 0M653 285l0 0M616 214l0 0M453 191l0 0M445 604l0 0M521 198l0 0M558 194l0 0" stroke="#404040" stroke-width="6" stroke-linecap="round" fill="none"/>
</g>
<polygon points="255.4,164.8 262.9,114.9 297.9,134.3" fill="#eef07e"/>
<polygon points="513.4,454.8 520.9,404.9 555.9,424.3" fill="#eef07e"/>
</svg>
<svg x="234.3" y="493.8" width="89.3" height="89.0" viewBox="8 15 665 663" preserveAspectRatio="none">
<rect x="0" y="0" width="700" height="700" fill="#000"/>
<g filter="url(#soft2)">
<ellipse cx="240" cy="250" rx="80" ry="90" fill="#1f1f1f"/>
<ellipse cx="480" cy="460" rx="70" ry="60" fill="#1a1a1a"/>
<path d="M241 220l0 0M262 277l0 0M226 237l0 0M245 303l0 0M199 184l0 0M168 276l0 0M278 258l0 0M197 265l0 0M268 175l0 0M243 240l0 0M253 312l0 0M224 256l0 0M307 253l0 0M273 325l0 0M195 323l0 0M487 513l0 0M413 463l0 0M466 457l0 0M487 518l0 0M513 500l0 0M509 435l0 0M506 479l0 0M470 438l0 0M463 477l0 0M468 510l0 0M464 476l0 0M441 416l0 0M500 411l0 0M480 445l0 0M540 441l0 0M490 406l0 0M459 510l0 0M438 488l0 0M465 439l0 0" stroke="#202020" stroke-width="8" stroke-linecap="round" fill="none"/>
<path d="M258 178l0 0M219 187l0 0M190 299l0 0M244 214l0 0M281 177l0 0M263 296l0 0M264 225l0 0M200 298l0 0M176 253l0 0M275 254l0 0M209 206l0 0M216 263l0 0M230 286l0 0M190 267l0 0M201 252l0 0M246 227l0 0M215 183l0 0M273 269l0 0M206 282l0 0M306 266l0 0M284 239l0 0M309 218l0 0M297 232l0 0M209 232l0 0M169 248l0 0M190 262l0 0M424 428l0 0M481 488l0 0M473 518l0 0M528 490l0 0M477 455l0 0M442 475l0 0M442 470l0 0M479 492l0 0M473 496l0 0M464 509l0 0M467 490l0 0M419 437l0 0M439 451l0 0M479 487l0 0M511 426l0 0M456 498l0 0M491 510l0 0M488 500l0 0M540 490l0 0M488 475l0 0M509 500l0 0M473 502l0 0M534 423l0 0M416 477l0 0M533 463l0 0" stroke="#404040" stroke-width="8" stroke-linecap="round" fill="none"/>
<path d="M175 254l0 0M190 234l0 0M235 214l0 0M270 310l0 0M230 323l0 0M239 241l0 0M231 171l0 0M175 280l0 0M261 298l0 0M435 498l0 0M465 420l0 0M490 485l0 0M489 435l0 0M443 440l0 0M444 503l0 0" stroke="#606060" stroke-width="8" stroke-linecap="round" fill="none"/>
<path d="M216 285l4 1M277 320l5 5M223 317l-0 3M280 216l2 4M326 194l4 1M101 43l-0 3M50 27l-4 6M329 388l-2 5M570 622l-5 7M147 483l5 2M633 196l-2 7M167 367l-2 2M138 98l-1 5M428 480l5 7M121 598l-4 1M507 371l2 1M668 402l0 3M553 345l9 1M471 392l-0 4" stroke="#808080" stroke-width="5" stroke-linecap="round" fill="none"/>
<path d="M158 315l-2 1M271 296l0 0M149 672l-9 1M168 7l-0 0M521 463l-7 3M255 328l0 3M315 27l4 0M571 656l-0 1" stroke="#808080" stroke-width="7" stroke-linecap="round" fill="none"/>
<path d="M210 333l6 5M250 278l-1 4M240 192l-5 6M46 85l-3 0M540 621l-8 3M371 66l-5 4M145 247l1 0M676 294l2 0M40 67l5 2M418 288l-3 7M528 421l0 6" stroke="#808080" stroke-width="9" stroke-linecap="round" fill="none"/>
<path d="M325 260l1 1M158 344l-8 1M90 82l0 1M459 517l-0 6M171 336l-1 2M305 353l5 3M62 378l4 5M401 100l-0 1M293 225l-7 4M519 155l-4 1M179 674l4 8M167 262l-1 1M612 108l-1 2M148 484l-1 1" stroke="#808080" stroke-width="11" stroke-linecap="round" fill="none"/>
<path d="M269 283l0 8M279 312l-1 0M321 273l3 1M276 331l7 4M185 428l-0 0M230 215l1 4M140 61l1 0M123 95l4 7M47 45l-7 0M18 13l-1 4M405 259l-2 2M621 191l4 7M675 89l8 1M281 244l-4 8M306 216l-3 5M628 125l3 7M169 5l-2 4M625 191l0 0M476 327l-2 2M624 366l4 6M72 443l0 0M406 494l-1 1M495 265l4 0M281 6l-1 3M337 67l1 1M154 235l0 4M314 363l0 7M310 213l-2 2M236 305l-5 2M49 351l1 1M405 506l0 0M277 152l5 1M623 228l1 1M641 12l-7 4M503 629l3 3M611 646l-1 7M1 299l-2 0M656 402l-6 1M406 180l-1 0M430 495l0 3" stroke="#9f9f9f" stroke-width="5" stroke-linecap="round" fill="none"/>
<path d="M180 317l3 2M164 226l-4 8M211 262l-4 7M165 304l3 2M233 286l3 5M246 330l-4 4M204 228l-1 0M105 86l-3 1M109 63l-1 7M279 210l-0 0M290 210l-8 2M183 638l-3 3M387 647l4 5M96 324l-6 2M641 440l2 0M549 48l-1 6M203 328l3 5M120 622l0 7M451 154l-0 1M489 102l-6 3M360 505l5 0M22 103l2 5M141 429l-0 1M612 56l-0 0M420 14l-2 3M327 82l-0 0M506 484l-1 4M479 614l-2 1M37 211l-3 2M473 214l-5 7M474 329l-0 0M461 505l2 1M166 281l-4 2M137 123l3 5M561 467l1 3M434 591l2 0M519 455l-5 3M142 543l-5 3M44 69l3 3M585 223l-3 0" stroke="#9f9f9f" stroke-width="7" stroke-linecap="round" fill="none"/>
<path d="M320 391l-1 2M259 469l5 2M197 300l-0 6M268 425l-4 3M290 145l7 0M322 350l-6 1M96 193l5 6M471 403l-3 6M91 495l-1 4M456 495l0 6M75 376l0 1M279 297l-1 3M190 350l-1 2M83 425l4 5M514 484l4 2M637 65l4 3M512 146l7 3M387 224l2 1M65 346l0 5M295 40l6 1M309 537l-5 5M152 126l-3 4M5 365l3 0M448 342l-0 1M26 396l2 8M495 61l-6 6M352 219l3 7M660 541l-2 1M436 447l-0 1M306 555l7 6M221 180l-4 5M435 374l3 3M679 352l-1 2M26 411l5 5M323 266l-9 1M520 436l-1 2M619 658l-3 5M56 12l-4 6M62 260l-2 7M210 192l1 0M544 127l1 1M293 441l-2 7M101 150l3 4M319 20l-2 0" stroke="#9f9f9f" stroke-width="9" stroke-linecap="round" fill="none"/>
<path d="M224 296l-1 6M308 271l1 1M150 368l8 2M201 325l-2 4M221 419l2 1M26 154l2 9M98 13l1 3M46 73l-6 4M75 584l-0 2M431 473l-3 4M449 153l-3 0M549 458l-3 1M669 115l-1 1M148 370l2 1M574 356l-4 2M514 317l4 4M243 333l-0 0M317 272l1 0M234 29l-4 3M348 617l-2 5M499 520l-3 6M214 212l-4 1M75 326l-2 6M522 510l2 0M673 473l0 0M461 40l-2 5M452 573l-0 0M72 111l5 2M625 475l-0 0M214 459l-0 1M333 347l2 6M94 116l1 1M637 565l1 1M513 408l-1 1M147 280l3 1M429 478l7 0" stroke="#9f9f9f" stroke-width="11" stroke-linecap="round" fill="none"/>
<path d="M280 396l-1 7M210 158l-3 7M197 190l8 1M159 402l2 5M277 197l-0 2M265 391l-1 1M156 319l1 0M274 189l-4 5M304 152l1 0M183 254l1 2M237 359l-0 1M53 197l-2 3M52 109l0 2M20 145l-0 2M34 77l3 6M634 595l-8 4M315 310l-0 0M667 181l3 4M180 547l0 1M519 525l3 5M163 489l-3 1M91 443l-4 7M313 175l-0 0M146 373l1 0M292 609l4 1M7 501l-1 3M306 643l1 7M636 490l0 1M600 647l6 1M78 101l3 5M459 388l6 1M350 284l2 1M277 557l-1 1M168 304l-1 0M246 179l-3 7M353 85l1 4M445 453l5 0M333 78l1 3M531 466l-1 1M106 311l-1 6M531 506l-0 9M528 440l2 1M678 546l2 2M663 652l0 0M14 467l2 2M673 464l-1 4M390 155l4 3M187 278l3 6M488 346l-1 3M425 41l-8 1M195 261l6 3M406 15l-1 0M590 606l0 1M327 36l5 6M34 259l1 3M398 460l1 8M384 505l0 0M99 365l-6 2M465 348l-0 7" stroke="#bfbfbf" stroke-width="5" stroke-linecap="round" fill="none"/>
<path d="M237 437l-5 1M222 350l1 1M185 193l-3 6M309 414l-1 1M299 192l1 2M315 446l-1 0M171 153l-2 0M247 468l-1 2M162 412l-0 0M313 379l-0 2M62 151l3 0M557 222l-3 1M287 280l-7 3M35 551l-5 3M332 135l4 6M166 76l-3 3M169 187l-3 8M287 257l2 7M315 523l0 1M132 37l1 1M214 136l-5 1M173 169l-7 4M604 335l-0 3M397 574l3 1M276 405l0 0M615 254l3 3M398 481l-1 1M152 320l2 2M484 170l-1 0M432 24l5 5M2 150l-9 2M677 87l-6 2M59 401l1 3M429 435l-5 7M81 104l4 4M368 409l-2 2M441 650l-2 4M305 221l0 1M517 170l-1 2M10 349l-4 8M643 65l-0 0M138 340l3 0M543 600l4 2M676 437l1 5M73 281l4 2M663 400l4 5M565 293l6 0M204 330l-7 1M659 514l7 2M441 427l-4 1M655 665l0 1M97 612l2 2M602 513l-1 2" stroke="#bfbfbf" stroke-width="7" stroke-linecap="round" fill="none"/>
<path d="M163 368l0 4M167 406l4 2M253 223l-1 9M276 441l1 2M232 335l-5 3M191 332l0 1M287 389l6 6M246 415l-8 2M183 289l-2 0M289 271l-0 2M11 13l0 1M100 111l-4 4M65 202l-0 1M312 220l-4 0M613 417l-2 7M271 198l2 8M468 496l-5 0M403 314l5 6M420 336l2 7M414 360l-6 2M201 26l-2 2M403 398l1 3M641 293l-2 3M486 66l-3 6M80 80l3 8M330 51l0 5M516 59l-0 8M188 238l-6 1M189 301l4 6M225 323l-1 1M342 33l-3 4M583 95l1 1M531 142l-0 1M501 319l-7 3M600 523l-1 5M219 269l2 9M348 416l-1 5M94 409l3 1M358 573l8 2M26 107l-8 3M494 364l-2 4M393 54l-1 3M80 646l-0 0M15 166l-4 5M66 272l3 5M81 380l7 4M179 48l4 3M328 55l-3 3M15 88l1 0M405 214l-9 1M18 144l-0 1M313 200l-3 5M403 397l-2 2M2 1l4 6M279 58l-4 4M663 494l-5 6M186 494l-1 7M502 127l2 1M123 490l-7 3M312 160l-1 4M468 33l-4 3M257 116l-2 1" stroke="#bfbfbf" stroke-width="9" stroke-linecap="round" fill="none"/>
<path d="M188 274l-3 4M215 445l-1 2M320 157l-1 6M306 346l-0 0M203 137l-0 0M235 285l2 8M266 368l1 5M289 422l7 5M218 320l0 3M25 28l-3 0M88 96l-1 3M107 171l-3 2M121 79l4 3M666 23l-3 1M538 478l1 1M96 666l4 0M483 483l5 1M308 297l2 1M610 562l3 2M656 192l-0 0M408 352l8 1M374 110l2 3M464 536l-5 1M88 114l0 0M337 437l-2 1M383 163l-3 7M444 166l8 4M679 502l1 0M328 285l4 2M486 563l1 0M144 482l0 3M18 572l-5 2M214 571l-6 0M432 490l-8 4M258 324l2 2M32 104l-0 3M151 617l-4 5M267 596l1 2M226 617l-2 0M540 446l-0 2M11 15l1 3M474 645l4 4M158 549l-1 8M239 173l-2 1M42 239l-3 5M607 460l-5 4M104 257l1 0M652 559l-1 6M593 112l-2 5M612 552l-4 7M200 340l-0 0M274 16l4 2M556 499l-2 0M284 454l-7 1M571 100l-8 3M412 272l-2 9M32 125l-4 3M432 479l-2 0M428 621l1 2M595 543l1 0M433 273l-1 1M78 107l-0 1M474 527l-2 2M471 627l-0 1M98 616l-2 0M399 9l4 3" stroke="#bfbfbf" stroke-width="11" stroke-linecap="round" fill="none"/>
<path d="M257 372l7 0M154 328l-2 6M225 392l0 2M213 441l-7 5M310 188l-4 2M309 374l-9 0M252 240l1 8M170 132l8 2M221 285l-2 8M290 169l6 5M232 339l5 1M174 320l-4 4M148 14l-4 6M30 67l-4 6M114 141l-5 6M136 186l-2 4M50 111l-3 7M6 197l1 8M156 170l-4 0M202 201l4 4M171 526l9 2M263 290l2 1M163 650l6 0M377 138l-0 5M481 127l7 5M12 27l-5 1M652 384l-0 6M567 362l2 1M504 251l3 2M536 128l-8 1M618 306l0 3M228 469l4 3M398 108l-1 3M563 106l0 2M199 219l8 1M262 666l-4 7M585 553l-3 6M518 25l-1 4M60 38l5 4M442 422l2 1M53 80l-0 0M265 214l4 5M201 156l3 8M338 275l1 2M118 305l0 1M435 559l7 3M107 514l-1 3M471 430l-3 4M62 416l-4 6M532 453l5 1M448 206l-2 3M291 351l-6 3M264 77l-2 3M155 303l-6 4M350 344l-4 3M204 358l-4 2M410 457l4 3M137 44l-8 2M290 241l3 6M255 297l-2 7M35 431l5 6M585 113l5 3M147 674l4 2M79 230l1 1M395 677l1 1M477 157l-3 2M214 65l2 5M420 440l3 7M258 558l-3 7M360 435l6 3M163 656l-6 2M574 171l-6 2M630 541l-0 0M186 383l4 2M548 67l0 2M239 446l5 1M466 610l-8 0M145 235l-0 2M375 71l-5 1M512 669l-2 3M62 393l-3 1M536 447l-5 6" stroke="#dfdfdf" stroke-width="5" stroke-linecap="round" fill="none"/>
<path d="M261 328l-5 3M179 207l3 1M167 377l-1 2M156 438l2 2M210 270l0 1M304 402l-1 1M198 393l0 1M235 138l-6 2M53 31l5 0M3 10l4 2M29 179l-1 1M11 107l-3 2M276 273l0 0M410 624l-0 0M52 549l-1 4M187 169l3 9M537 202l-0 3M558 499l-2 9M553 123l4 1M380 262l-4 2M406 421l-2 8M194 147l3 0M140 384l-6 3M446 565l-1 8M321 287l2 2M198 270l3 1M445 607l2 2M659 386l7 2M89 590l-1 7M79 34l-2 2M298 355l0 3M283 265l-0 0M460 418l-6 3M235 39l-5 0M301 166l2 0M199 321l-4 2M375 467l1 1M224 308l0 0M28 492l-5 5M165 329l-0 0M397 0l2 2M329 308l-0 0M122 39l-6 5M396 101l2 2M659 458l-1 1M42 676l-2 6M450 195l4 1M515 507l-5 4M115 639l-8 4M156 428l1 8M31 139l-4 2M434 283l2 4M393 574l-0 0M661 88l-0 0M216 334l-1 0M31 461l4 8M667 639l-8 4M255 373l-4 1M502 501l-1 3M222 310l-1 0M185 159l-3 2M91 598l-0 4M351 61l6 2M544 24l2 5M38 364l6 3M451 194l2 0M602 506l2 2M546 411l-4 5M502 433l-1 8M252 572l-0 5M397 182l-4 4" stroke="#dfdfdf" stroke-width="7" stroke-linecap="round" fill="none"/>
<path d="M262 290l-1 0M152 201l6 1M168 280l5 7M310 261l-6 1M287 442l-1 5M212 212l8 3M310 331l-1 2M270 359l0 3M247 266l-4 6M150 304l-1 2M227 223l-3 4M316 371l-0 1M209 148l-1 0M243 284l-4 0M271 298l1 4M152 407l1 0M258 147l-2 1M140 29l-6 1M17 118l1 9M128 101l-7 0M21 111l-1 1M59 176l1 6M11 8l0 0M495 490l-2 8M141 227l1 8M368 454l1 6M371 186l-1 1M404 441l-3 5M433 391l-2 3M212 540l1 4M4 649l-1 1M568 22l4 2M366 542l-1 1M661 663l4 0M638 623l-3 0M126 140l-2 1M222 196l-3 2M74 357l2 2M430 163l3 7M168 268l7 3M90 82l6 4M657 644l1 0M424 653l-4 7M140 363l0 0M285 620l-5 4M604 4l-0 1M276 141l-7 5M425 460l5 3M210 579l-0 6M641 243l3 2M491 437l-5 2M516 514l-1 1M554 26l-1 5M268 184l6 6M638 346l2 0M459 5l-0 0M168 268l-5 6M94 556l1 3M171 659l-1 2M237 360l2 0M324 368l-1 8M143 366l3 1M451 495l0 8M161 198l4 2M488 663l-0 0M402 275l-7 0M84 603l-4 6M192 296l-1 2M441 449l1 3M213 185l3 1M173 219l1 1M195 253l-5 7M623 299l2 8M650 144l-3 2M358 575l7 4M341 643l2 4M306 311l7 3M91 20l8 2M152 276l-1 0M501 301l8 3M354 92l-7 4M634 666l-1 5" stroke="#dfdfdf" stroke-width="9" stroke-linecap="round" fill="none"/>
<path d="M233 470l6 6M209 409l-3 2M239 421l1 7M321 350l0 2M237 442l-5 0M223 464l-1 4M281 310l4 1M227 139l2 2M268 436l-2 1M41 183l3 7M54 168l3 4M140 31l5 2M75 181l7 1M60 169l5 4M25 126l-5 4M20 35l-3 1M84 554l-2 1M296 245l0 8M417 435l-6 6M327 217l0 0M140 232l-6 0M523 8l1 0M157 293l-8 2M41 663l-4 2M3 62l6 2M148 158l1 7M450 88l-6 2M144 273l3 6M314 341l4 6M583 543l-1 4M217 332l-3 0M289 638l-4 5M308 316l-1 6M434 451l-2 2M394 669l-0 0M165 221l-0 1M408 421l-1 2M499 318l-0 0M148 541l1 3M227 351l1 1M576 199l-0 1M443 446l2 1M208 461l-3 7M217 179l1 9M616 60l-8 2M400 2l-1 2M249 445l-2 8M373 132l-2 6M443 467l0 4M226 10l-5 2M104 501l-1 1M609 617l3 6M325 266l-0 0M658 222l-2 2M570 162l3 1M619 568l-5 3M54 653l-1 3M48 215l5 3M638 475l-2 2M403 107l-1 2M260 98l-5 4M252 339l2 2M488 410l6 6M196 116l4 3" stroke="#dfdfdf" stroke-width="11" stroke-linecap="round" fill="none"/>
<path d="M190 398l2 1M271 156l4 3M95 34l3 3M95 47l-1 1M19 48l3 8M121 188l7 2M349 608l2 1M673 326l-3 5M326 525l-1 6M223 319l-2 7M520 363l5 2M145 172l1 5M99 125l0 2M40 242l8 4M234 160l0 6M24 558l1 2M531 413l-5 1M440 21l-0 0M258 583l-2 2M172 299l3 1M330 42l-1 5M279 607l-6 5M492 20l0 0M382 492l-0 0M158 623l-6 4M60 586l-8 4M627 178l-9 1M119 118l-6 2M379 160l4 3M399 107l-3 3M342 20l-2 4M241 48l-3 2M406 609l0 2" stroke="#ffffff" stroke-width="5" stroke-linecap="round" fill="none"/>
<path d="M294 344l6 5M260 397l1 2M237 240l1 6M302 379l3 6M239 420l-2 3M197 139l-3 2M276 344l2 3M267 402l-6 4M12 81l4 5M19 128l1 1M134 29l-2 0M106 136l5 2M130 171l-1 3M600 498l-2 0M46 443l-1 9M253 343l6 6M457 501l1 1M569 196l-0 0M360 128l-2 4M1 372l-0 1M499 150l-5 2M215 612l-1 2M511 210l-5 2M342 496l-0 2M367 155l1 0M331 301l-1 4M232 268l4 6M171 263l-3 5M606 289l-8 3M446 15l4 4M448 474l2 0M467 607l-7 0M248 342l-3 0M209 573l-1 4M520 518l5 6M283 240l-4 4M352 110l-5 2M602 432l7 3M139 560l-7 5M317 334l1 3M209 174l1 1" stroke="#ffffff" stroke-width="7" stroke-linecap="round" fill="none"/>
<path d="M314 447l1 6M292 235l2 6M212 193l-6 2M159 394l6 2M267 226l-0 1M328 362l-4 5M180 342l-2 2M172 339l-0 1M312 296l-7 3M313 439l0 1M194 378l-3 0M153 440l-7 1M312 270l-3 4M30 49l-5 7M5 181l-4 2M306 232l-1 1M438 520l-0 0M379 449l-1 5M260 521l7 4M70 630l-4 4M437 599l-0 8M632 84l4 1M237 26l4 1M79 116l-2 3M2 369l5 4M305 231l3 4M527 286l-2 0M513 130l2 3M663 296l1 1M622 129l5 4M365 409l-2 5M590 292l-2 5M272 475l0 1M590 62l0 0M279 422l-4 0M292 247l-7 2M60 259l-4 2M406 598l4 4M620 527l-0 0M365 214l-0 0M306 204l2 4M208 314l2 2M272 526l3 1M16 247l-5 3M384 523l5 1M609 554l1 2M139 629l2 5M295 380l4 6" stroke="#ffffff" stroke-width="9" stroke-linecap="round" fill="none"/>
<path d="M243 361l-7 4M151 241l3 0M316 363l-4 3M269 139l0 1M274 277l-6 4M227 359l-0 3M44 8l5 2M130 408l3 3M79 389l-0 0M49 218l0 1M73 669l2 3M101 357l1 8M292 297l5 3M181 334l4 3M240 356l-3 1M309 67l1 0M526 66l-2 0M540 584l5 7M574 318l-6 2M572 138l-6 5M214 399l1 2M311 248l-7 0M352 332l-6 2M440 101l-3 2M110 267l-4 1M663 556l-7 1M350 324l-3 2M312 234l-0 5M217 278l-8 2M509 510l0 0M111 680l1 8M164 635l-0 1M186 112l-1 1M310 154l-1 6M652 40l-7 1M31 401l-1 2M189 473l-4 3" stroke="#ffffff" stroke-width="11" stroke-linecap="round" fill="none"/>
</g>
</svg>
<svg x="326.0" y="493.8" width="89.3" height="89.0" viewBox="8 15 665 663" preserveAspectRatio="none">
<rect x="0" y="0" width="700" height="700" fill="#000"/>
<g filter="url(#soft)">
<ellipse cx="235" cy="215" rx="45" ry="45" fill="#281028"/>
<ellipse cx="485" cy="490" rx="48" ry="45" fill="#281028"/>
<ellipse cx="235" cy="215" rx="40" ry="40" fill="#010401"/>
<ellipse cx="485" cy="490" rx="40" ry="40" fill="#010401"/>
</g><g filter="url(#soft)" style="mix-blend-mode:screen">
<ellipse cx="240" cy="210" rx="5" ry="5" fill="#e040e0"/>
<ellipse cx="220" cy="230" rx="5" ry="5" fill="#e040e0"/>
<ellipse cx="480" cy="490" rx="5" ry="5" fill="#e040e0"/>
<ellipse cx="500" cy="505" rx="5" ry="5" fill="#e040e0"/>
<ellipse cx="185" cy="115" rx="21.6" ry="18.0" fill="url(#nucm)" opacity="0.84"/>
<ellipse cx="215" cy="90" rx="26.4" ry="26.4" fill="url(#nucm)" opacity="0.90"/>
<ellipse cx="175" cy="128" rx="18.0" ry="16.8" fill="url(#nucm)" opacity="0.78"/>
<ellipse cx="355" cy="115" rx="24.0" ry="18.0" fill="url(#nucm)" opacity="0.73"/>
<ellipse cx="110" cy="195" rx="24.0" ry="21.6" fill="url(#nucm)" opacity="0.95"/>
<ellipse cx="110" cy="232" rx="21.6" ry="19.2" fill="url(#nucm)" opacity="0.95"/>
<ellipse cx="395" cy="190" rx="24.0" ry="21.6" fill="url(#nucm)" opacity="0.95"/>
<ellipse cx="525" cy="120" rx="26.4" ry="24.0" fill="url(#nucm)" opacity="0.90"/>
<ellipse cx="580" cy="80" rx="16.8" ry="24.0" fill="url(#nucm)" opacity="0.95"/>
<ellipse cx="530" cy="190" rx="26.4" ry="24.0" fill="url(#nucm)" opacity="0.95"/>
<ellipse cx="510" cy="240" rx="24.0" ry="19.2" fill="url(#nucm)" opacity="0.84"/>
<ellipse cx="620" cy="185" rx="30.0" ry="24.0" fill="url(#nucm)" opacity="0.95"/>
<ellipse cx="645" cy="140" rx="21.6" ry="21.6" fill="url(#nucm)" opacity="0.90"/>
<ellipse cx="635" cy="265" rx="21.6" ry="19.2" fill="url(#nucm)" opacity="0.95"/>
<ellipse cx="290" cy="275" rx="12.0" ry="12.0" fill="url(#nucm)" opacity="0.34"/>
<ellipse cx="320" cy="225" rx="9.6" ry="14.4" fill="url(#nucm)" opacity="0.34"/>
<ellipse cx="220" cy="415" rx="18.0" ry="24.0" fill="url(#nucm)" opacity="0.78"/>
<ellipse cx="275" cy="465" rx="16.8" ry="24.0" fill="url(#nucm)" opacity="0.90"/>
<ellipse cx="325" cy="455" rx="24.0" ry="21.6" fill="url(#nucm)" opacity="0.95"/>
<ellipse cx="335" cy="495" rx="24.0" ry="21.6" fill="url(#nucm)" opacity="0.95"/>
<ellipse cx="660" cy="455" rx="16.8" ry="19.2" fill="url(#nucm)" opacity="0.84"/>
<ellipse cx="60" cy="440" rx="18.0" ry="14.4" fill="url(#nucm)" opacity="0.17"/>
<ellipse cx="520" cy="635" rx="12.0" ry="9.6" fill="url(#nucm)" opacity="0.17"/>
<path d="M568 648l0 0M39 90l0 0M261 665l0 0M187 643l0 0M9 292l0 0M623 356l0 0M158 448l0 0M229 71l0 0M550 362l0 0M495 152l0 0M612 60l0 0M111 212l0 0M580 607l0 0M487 419l0 0M465 16l0 0M468 470l0 0M37 550l0 0M28 185l0 0M435 628l0 0M199 310l0 0M567 134l0 0M228 258l0 0M341 119l0 0M72 280l0 0M157 3l0 0M476 200l0 0M550 406l0 0M250 59l0 0M45 529l0 0M612 90l0 0" stroke="#1c5a14" stroke-width="6" stroke-linecap="round" fill="none"/>
</g>
<polygon points="255.4,164.8 262.9,114.9 297.9,134.3" fill="#eef07e"/>
<polygon points="513.4,454.8 520.9,404.9 555.9,424.3" fill="#eef07e"/>
</svg>
<svg x="51.0" y="586.0" width="89.3" height="89.0" viewBox="8 15 665 663" preserveAspectRatio="none">
<rect x="0" y="0" width="700" height="700" fill="#000"/>
<g filter="url(#soft)">
<ellipse cx="175" cy="335" rx="45" ry="45" fill="#1a1a1a"/>
<ellipse cx="530" cy="365" rx="45" ry="45" fill="#1a1a1a"/>
<ellipse cx="175" cy="325" rx="5" ry="5" fill="#d9d9d9"/>
<ellipse cx="185" cy="350" rx="5" ry="5" fill="#d9d9d9"/>
<ellipse cx="520" cy="350" rx="5" ry="5" fill="#d9d9d9"/>
<ellipse cx="530" cy="380" rx="5" ry="5" fill="#d9d9d9"/>
<ellipse cx="545" cy="360" rx="5" ry="5" fill="#d9d9d9"/>
<ellipse cx="270" cy="30" rx="16.8" ry="16.8" fill="url(#nuc)" opacity="0.95"/>
<ellipse cx="270" cy="65" rx="24.0" ry="21.6" fill="url(#nuc)" opacity="0.95"/>
<ellipse cx="265" cy="100" rx="21.6" ry="19.2" fill="url(#nuc)" opacity="0.95"/>
<ellipse cx="240" cy="165" rx="21.6" ry="24.0" fill="url(#nuc)" opacity="0.95"/>
<ellipse cx="430" cy="85" rx="18.0" ry="19.2" fill="url(#nuc)" opacity="1.00"/>
<ellipse cx="465" cy="115" rx="24.0" ry="21.6" fill="url(#nuc)" opacity="0.90"/>
<ellipse cx="585" cy="35" rx="18.0" ry="16.8" fill="url(#nuc)" opacity="0.67"/>
<ellipse cx="30" cy="212" rx="18.0" ry="19.2" fill="url(#nuc)" opacity="1.00"/>
<ellipse cx="195" cy="232" rx="24.0" ry="21.6" fill="url(#nuc)" opacity="0.95"/>
<ellipse cx="237" cy="260" rx="24.0" ry="21.6" fill="url(#nuc)" opacity="0.95"/>
<ellipse cx="282" cy="300" rx="19.2" ry="21.6" fill="url(#nuc)" opacity="0.95"/>
<ellipse cx="395" cy="320" rx="24.0" ry="24.0" fill="url(#nuc)" opacity="0.84"/>
<ellipse cx="345" cy="360" rx="21.6" ry="19.2" fill="url(#nuc)" opacity="0.67"/>
<ellipse cx="630" cy="375" rx="16.8" ry="19.2" fill="url(#nuc)" opacity="1.00"/>
<ellipse cx="400" cy="525" rx="24.0" ry="24.0" fill="url(#nuc)" opacity="0.84"/>
<ellipse cx="540" cy="575" rx="24.0" ry="21.6" fill="url(#nuc)" opacity="0.84"/>
<ellipse cx="580" cy="595" rx="24.0" ry="21.6" fill="url(#nuc)" opacity="0.90"/>
<ellipse cx="560" cy="620" rx="24.0" ry="21.6" fill="url(#nuc)" opacity="0.95"/>
<ellipse cx="450" cy="605" rx="21.6" ry="21.6" fill="url(#nuc)" opacity="0.95"/>
<ellipse cx="650" cy="635" rx="19.2" ry="21.6" fill="url(#nuc)" opacity="0.78"/>
<ellipse cx="110" cy="555" rx="9.6" ry="9.6" fill="url(#nuc)" opacity="0.90"/>
<ellipse cx="60" cy="625" rx="16.8" ry="16.8" fill="url(#nuc)" opacity="0.67"/>
<ellipse cx="100" cy="650" rx="12.0" ry="16.8" fill="url(#nuc)" opacity="0.84"/>
<ellipse cx="530" cy="250" rx="9.6" ry="7.2" fill="url(#nuc)" opacity="0.34"/>
<ellipse cx="175" cy="335" rx="45" ry="45" fill="none" stroke="#2c2c2c" stroke-width="4"/>
<ellipse cx="530" cy="365" rx="45" ry="45" fill="none" stroke="#2c2c2c" stroke-width="4"/>
<path d="M271 29l0 0M263 27l0 0M270 59l0 0M266 59l0 0M272 97l0 0M258 99l0 0M249 170l0 0M241 174l0 0M433 84l0 0M426 81l0 0M465 114l0 0M472 117l0 0M592 31l0 0M584 35l0 0M34 218l0 0M34 204l0 0M196 230l0 0M198 228l0 0M231 260l0 0M237 260l0 0M284 304l0 0M284 293l0 0M403 320l0 0M387 311l0 0M346 354l0 0M342 357l0 0M636 382l0 0M635 375l0 0M405 526l0 0M409 524l0 0M530 584l0 0M539 583l0 0M578 603l0 0M583 591l0 0M556 626l0 0M556 623l0 0M454 608l0 0M448 604l0 0M642 631l0 0M648 636l0 0M107 557l0 0M65 630l0 0M66 625l0 0M97 644l0 0M530 252l0 0" stroke="#707070" stroke-width="6" stroke-linecap="round" fill="none"/>
</g>
<polygon points="151.6,288.8 144.1,238.9 109.1,258.3" fill="#eef07e"/>
<polygon points="558.4,326.8 565.9,276.9 600.9,296.3" fill="#eef07e"/>
</svg>
<svg x="142.6" y="586.0" width="89.3" height="89.0" viewBox="8 15 665 663" preserveAspectRatio="none">
<rect x="0" y="0" width="700" height="700" fill="#000"/>
<g filter="url(#soft)">
<ellipse cx="170" cy="330" rx="40" ry="40" fill="#101010"/>
<ellipse cx="530" cy="370" rx="35" ry="35" fill="#0e0e0e"/>
<ellipse cx="175" cy="325" rx="4" ry="4" fill="#4c4c4c"/>
<ellipse cx="185" cy="350" rx="4" ry="4" fill="#4c4c4c"/>
<ellipse cx="520" cy="350" rx="4" ry="4" fill="#4c4c4c"/>
<ellipse cx="530" cy="380" rx="4" ry="4" fill="#4c4c4c"/>
<ellipse cx="545" cy="360" rx="4" ry="4" fill="#4c4c4c"/>
<path d="M229 581l0 0M673 110l0 0M326 567l0 0M288 618l0 0M398 67l0 0M534 364l0 0M111 563l0 0M532 290l0 0M507 214l0 0M246 337l0 0M520 566l0 0M670 430l0 0M52 238l0 0M61 282l0 0M673 298l0 0M328 159l0 0M325 503l0 0M327 189l0 0M325 508l0 0M543 533l0 0M201 472l0 0M651 584l0 0M318 515l0 0M416 45l0 0M97 561l0 0" stroke="#202020" stroke-width="6" stroke-linecap="round" fill="none"/>
<path d="M394 160l0 0M585 26l0 0M386 509l0 0M605 596l0 0M326 65l0 0M27 495l0 0M602 235l0 0M421 203l0 0M196 519l0 0M447 630l0 0M184 666l0 0M74 657l0 0M260 86l0 0M437 546l0 0M613 115l0 0" stroke="#404040" stroke-width="6" stroke-linecap="round" fill="none"/>
</g>
<polygon points="151.6,288.8 144.1,238.9 109.1,258.3" fill="#eef07e"/>
<polygon points="558.4,326.8 565.9,276.9 600.9,296.3" fill="#eef07e"/>
</svg>
<svg x="234.3" y="586.0" width="89.3" height="89.0" viewBox="8 15 665 663" preserveAspectRatio="none">
<rect x="0" y="0" width="700" height="700" fill="#000"/>
<g filter="url(#soft2)">
<ellipse cx="200" cy="350" rx="90" ry="70" fill="#1a1a1a"/>
<ellipse cx="500" cy="380" rx="70" ry="70" fill="#1a1a1a"/>
<path d="M155 385l0 0M245 406l0 0M196 312l0 0M209 312l0 0M224 387l0 0M198 343l0 0M126 374l0 0M224 383l0 0M239 299l0 0M223 294l0 0M191 414l0 0M172 343l0 0M157 372l0 0M511 429l0 0M479 319l0 0M474 376l0 0M530 365l0 0M526 401l0 0M478 330l0 0M470 362l0 0M462 429l0 0M518 382l0 0M496 356l0 0M509 362l0 0M466 319l0 0M534 413l0 0M439 348l0 0M512 413l0 0M474 345l0 0M509 318l0 0M498 380l0 0M474 327l0 0M447 352l0 0M450 351l0 0M534 343l0 0M463 426l0 0" stroke="#202020" stroke-width="8" stroke-linecap="round" fill="none"/>
<path d="M212 296l0 0M132 373l0 0M208 383l0 0M218 358l0 0M190 290l0 0M174 386l0 0M153 408l0 0M154 317l0 0M165 382l0 0M192 357l0 0M242 305l0 0M180 394l0 0M144 383l0 0M132 309l0 0M139 315l0 0M133 324l0 0M273 344l0 0M176 292l0 0M161 401l0 0M149 352l0 0M176 292l0 0M255 394l0 0M218 332l0 0M194 409l0 0M214 342l0 0M244 322l0 0M490 349l0 0M493 362l0 0M501 342l0 0M512 414l0 0M533 396l0 0M494 389l0 0M499 321l0 0M536 403l0 0M550 337l0 0M538 394l0 0M438 383l0 0M431 384l0 0M501 415l0 0M456 345l0 0M510 371l0 0M502 370l0 0M452 388l0 0M452 355l0 0M563 381l0 0M494 395l0 0M556 362l0 0" stroke="#404040" stroke-width="8" stroke-linecap="round" fill="none"/>
<path d="M244 297l0 0M159 304l0 0M221 361l0 0M173 345l0 0M259 304l0 0M217 286l0 0M192 396l0 0M158 391l0 0M187 394l0 0M167 330l0 0M192 371l0 0M559 406l0 0M534 353l0 0M456 348l0 0M522 395l0 0M453 391l0 0M547 341l0 0" stroke="#606060" stroke-width="8" stroke-linecap="round" fill="none"/>
<path d="M630 153l-5 1M588 144l6 6M274 384l-1 1M166 252l0 3M643 220l5 3M149 324l-0 1M175 595l4 7M295 517l-5 2M650 591l7 2" stroke="#808080" stroke-width="5" stroke-linecap="round" fill="none"/>
<path d="M138 420l1 1M293 393l1 3M134 445l3 5M273 182l4 7M318 477l3 3" stroke="#808080" stroke-width="7" stroke-linecap="round" fill="none"/>
<path d="M641 131l-0 1M639 46l-2 7M581 401l-0 0M578 399l-6 6M296 373l-2 6M324 338l-4 1M309 80l-0 1M365 57l-7 4M495 409l-7 5M41 285l-0 1M196 568l3 0" stroke="#808080" stroke-width="9" stroke-linecap="round" fill="none"/>
<path d="M636 116l0 1M185 434l3 2M326 407l0 0M626 181l-3 6M184 56l0 0M222 314l-2 0M566 432l3 3M604 461l-3 2" stroke="#808080" stroke-width="11" stroke-linecap="round" fill="none"/>
<path d="M577 206l-1 3M662 154l-0 0M609 22l1 2M673 198l1 0M646 217l-4 5M605 146l0 1M600 210l0 7M199 414l4 4M116 410l5 4M213 426l1 0M127 385l-1 5M293 429l-1 4M461 385l-1 1M558 344l-1 8M466 371l2 2M590 397l0 8M501 314l7 0M448 372l1 1M304 349l-6 3M320 381l0 0M227 322l1 6M225 142l-4 5M94 197l-2 1M544 416l5 5M114 288l-6 3M119 392l-1 3M533 452l-0 2M10 660l-4 1M249 100l1 3M166 106l-3 4M648 512l1 3M146 484l-3 5M511 671l-1 4M445 139l-1 3M184 471l-0 0M185 482l-0 4" stroke="#9f9f9f" stroke-width="5" stroke-linecap="round" fill="none"/>
<path d="M620 126l-1 1M585 187l-3 5M587 177l-0 6M667 112l5 0M619 23l5 2M614 185l-3 3M582 191l-3 6M599 223l-1 5M278 437l-0 0M206 415l-0 1M163 383l1 8M250 401l3 0M134 411l-7 1M226 437l-8 1M576 348l1 1M447 448l-4 2M434 467l3 1M461 419l4 5M572 369l-0 0M468 480l-0 8M163 327l-1 7M520 268l0 0M232 630l0 0M446 352l4 7M429 347l3 4M274 522l4 7M362 564l-6 6M276 258l7 5M386 578l2 1M436 349l-1 1M530 343l5 5M158 406l3 0M193 130l3 6M7 558l-4 0M251 326l-1 6M2 450l0 2M470 317l6 2M553 306l1 6M508 564l-0 2M505 199l2 4M243 379l1 3M616 450l-3 7M296 655l0 7M599 160l5 2M612 155l0 1" stroke="#9f9f9f" stroke-width="7" stroke-linecap="round" fill="none"/>
<path d="M651 162l-1 2M658 143l-0 0M603 109l1 2M605 138l5 6M572 69l-6 4M564 72l-8 3M260 406l-2 6M597 371l1 5M535 412l4 2M512 406l3 2M254 540l6 3M123 429l-2 2M36 20l2 4M116 570l5 1M284 324l-6 6M80 596l-0 5M320 466l1 4M262 662l-5 3M118 554l-2 1M169 527l6 6M10 560l-3 1M245 412l-0 0M67 107l-2 1M447 326l1 8M266 387l-1 5M231 205l0 1M263 651l-2 0M274 622l-4 5M550 34l-2 8M159 248l-6 2M189 304l-2 3M134 554l-0 3M620 372l3 4M203 312l2 0M461 431l3 1M352 336l-4 4M254 539l1 0M155 513l7 4M82 199l-4 7M452 18l0 2" stroke="#9f9f9f" stroke-width="9" stroke-linecap="round" fill="none"/>
<path d="M642 85l6 2M644 119l-2 1M634 187l2 7M612 172l-2 4M666 60l-8 1M274 429l2 0M213 420l1 1M146 387l0 3M317 401l3 2M292 384l2 1M512 432l-2 1M433 304l6 6M146 292l-5 4M594 490l1 0M430 596l-3 3M45 623l0 3M472 307l-2 1M535 307l-0 2M343 54l-1 0M194 410l3 1M274 427l-9 1M267 413l-4 2M257 478l-4 2M515 477l6 4M388 405l7 5M196 651l4 1M428 577l0 0M330 52l-8 2M78 647l0 0M82 376l1 2M533 493l4 4M82 49l7 1M169 536l-5 0M189 389l-1 1M431 328l4 4M433 640l2 7M336 402l-6 0M426 238l5 2M503 181l-5 1M29 183l-7 3M534 368l-0 1M451 334l2 0M21 559l1 1M160 635l3 1M459 126l2 0M607 268l-8 3M674 591l-2 1M528 521l6 3M180 512l2 2" stroke="#9f9f9f" stroke-width="11" stroke-linecap="round" fill="none"/>
<path d="M624 49l-0 0M572 49l-1 8M620 170l6 2M586 211l-1 6M638 223l-0 0M619 77l-3 0M669 205l2 7M577 107l1 7M647 30l1 0M654 65l-7 5M626 40l-2 8M675 131l1 6M615 116l5 1M618 82l7 5M641 199l1 8M650 127l-3 6M310 440l2 5M288 436l-1 0M141 401l-0 7M267 423l-5 2M225 447l-0 1M233 384l-8 2M285 425l2 2M544 424l7 1M502 446l-1 2M499 454l-3 6M429 375l3 4M629 230l-4 1M262 521l1 3M504 453l3 1M19 272l-0 3M330 494l9 1M561 395l-1 6M86 554l3 3M37 156l-3 3M299 161l1 1M445 367l4 8M547 277l3 6M481 350l5 8M107 307l0 0M493 229l1 6M355 660l0 0M91 452l5 3M206 545l-2 2M361 181l-3 3M182 312l-4 5M494 43l-4 4M147 320l-0 0M176 217l5 6M617 145l6 5M470 130l1 5M96 342l-3 4M319 154l-2 4M523 422l0 0M228 417l3 0M102 206l-8 4M564 113l3 7M672 223l2 8M548 238l-5 1" stroke="#bfbfbf" stroke-width="5" stroke-linecap="round" fill="none"/>
<path d="M650 163l1 3M676 101l3 7M567 55l8 4M562 181l4 5M677 20l7 4M676 66l4 1M580 222l0 0M680 133l1 7M661 200l-0 4M178 389l2 0M118 381l-2 8M117 403l-2 4M115 426l2 3M243 411l-0 0M147 432l-1 1M204 404l-2 3M156 417l-4 6M246 426l0 2M199 418l-1 2M348 423l3 1M528 401l-5 1M518 384l-0 3M348 411l4 7M491 105l-1 1M282 290l-2 1M201 567l4 1M293 632l0 4M411 160l6 5M521 316l4 5M189 10l-6 3M68 632l-1 8M133 274l3 1M593 241l0 1M181 314l-5 6M44 122l2 5M537 80l-2 2M125 367l-2 8M232 224l-4 4M286 113l-3 1M416 248l-0 6M490 328l-2 0M29 238l-1 2M269 345l4 3M463 394l-1 1M468 438l2 2M321 600l3 1M564 343l0 0M70 338l2 0M486 469l-5 2M153 335l1 1M150 249l-2 1M468 524l1 1M445 338l3 2M197 495l2 1M185 656l2 1M34 459l-1 2M179 506l-3 2M192 347l6 3" stroke="#bfbfbf" stroke-width="7" stroke-linecap="round" fill="none"/>
<path d="M676 175l4 4M671 149l-4 4M590 71l-8 1M665 227l-2 1M674 174l1 4M618 112l9 1M636 117l3 5M607 21l1 5M594 186l-4 2M599 200l4 4M621 204l-2 1M647 122l3 1M591 90l4 1M680 202l6 1M618 212l-3 0M677 215l-1 4M582 39l-3 8M251 418l-0 3M214 411l-5 0M454 466l0 1M434 375l5 7M451 402l3 6M509 346l3 4M134 564l6 1M578 227l1 0M163 291l3 3M453 495l1 4M263 234l-5 4M16 546l0 0M260 411l2 7M447 566l0 1M328 333l6 1M561 382l1 5M592 4l2 1M609 385l-1 1M7 463l-5 4M156 328l1 0M154 324l6 0M288 138l2 3M567 461l-3 2M153 414l0 0M93 378l3 7M62 537l-7 2M484 443l2 1M224 522l-1 4M150 599l7 3M113 303l-4 2M252 327l1 2M518 664l1 1M307 343l5 7M606 452l7 3M3 445l-3 2M309 373l-2 8M605 550l7 3M554 250l2 7M352 27l2 6M109 32l-0 0M675 513l4 5M163 436l-2 3M45 516l2 2M173 393l-2 1M284 307l-2 2M543 455l3 0M306 97l-5 1M554 679l3 1M469 333l-7 3M151 678l-0 2M296 284l-3 0" stroke="#bfbfbf" stroke-width="9" stroke-linecap="round" fill="none"/>
<path d="M614 115l-2 1M577 225l-2 2M673 54l3 1M612 72l2 0M678 141l-0 6M613 82l7 2M563 164l4 4M611 195l-1 8M673 35l5 4M132 403l0 2M126 421l-1 1M226 447l0 0M314 428l-6 3M242 388l2 3M166 434l2 0M126 410l3 3M204 274l-0 1M569 373l0 0M97 331l-2 3M63 195l2 4M245 557l-8 4M537 402l3 4M197 356l0 0M108 479l3 2M112 199l6 4M42 363l-3 2M357 133l3 2M176 583l3 3M189 11l3 0M630 42l-2 1M249 17l0 0M351 512l0 1M580 554l2 3M373 370l4 3M563 569l1 0M592 506l-3 1M148 277l-4 8M593 202l2 0M602 575l2 3M36 253l-0 0M47 15l3 4M602 196l-1 0" stroke="#bfbfbf" stroke-width="11" stroke-linecap="round" fill="none"/>
<path d="M665 61l1 5M569 129l3 7M572 223l2 6M657 40l0 1M646 220l2 2M639 111l1 6M595 204l0 0M609 146l1 3M678 75l-8 2M567 153l7 4M593 132l-4 4M581 149l7 3M127 423l6 5M151 449l-5 0M265 437l1 7M343 383l3 3M135 390l-3 1M218 388l2 4M126 390l0 3M496 406l1 0M491 324l-3 1M528 458l3 1M562 406l-1 2M545 403l-2 8M514 417l-5 1M590 323l0 0M462 367l-3 2M495 450l2 4M421 605l7 5M353 250l-2 1M249 242l4 7M654 353l2 4M621 329l-8 5M593 515l-0 3M283 344l-7 2M159 329l-0 0M574 204l-3 5M78 519l-4 2M166 327l-4 3M508 512l-6 2M220 428l-6 2M311 370l-4 4M409 360l-4 2M406 235l-7 5M215 286l-3 2M612 163l-6 5M490 207l5 2M677 519l-8 4M191 322l-2 3M652 354l2 0M520 146l0 0M376 543l-0 0M655 307l0 0M430 180l-1 1M78 0l-5 3M530 639l8 4M541 252l-1 8M462 444l-0 0M99 335l5 4M396 495l2 2M158 596l4 2M253 173l-7 5M131 464l3 6M247 624l0 0M368 519l2 1M102 221l-2 8M678 18l-1 0" stroke="#dfdfdf" stroke-width="5" stroke-linecap="round" fill="none"/>
<path d="M561 140l-1 2M669 188l-4 7M623 42l-5 2M577 46l-4 3M608 114l-0 1M604 37l-1 4M645 172l-0 7M668 75l-1 3M677 86l3 2M669 92l1 1M594 100l1 5M645 53l0 0M600 27l5 4M659 181l-2 2M349 440l6 4M152 386l5 0M132 414l3 3M305 402l3 8M165 400l1 4M114 393l6 0M214 406l-9 0M282 448l-1 6M591 347l-0 8M510 388l-0 1M541 452l-1 8M346 252l7 5M164 571l-4 2M508 322l-2 8M270 648l-5 0M131 630l-3 6M541 341l5 5M137 555l0 0M678 182l-1 1M272 352l6 1M17 281l-0 8M164 296l2 3M51 260l2 1M284 352l-1 5M307 595l-0 5M155 272l-5 2M87 161l-4 4M116 390l-0 1M56 469l6 7M74 179l7 2M278 546l1 3M201 12l-0 2M597 31l0 3M219 386l4 4M478 416l1 1M339 645l-0 0M495 601l1 8M145 443l-4 2M282 673l0 0M116 379l-7 3M660 49l1 6M254 450l1 2M511 661l-0 1M444 336l7 2M477 213l-1 0M613 26l-2 0M301 223l1 5M536 403l2 3M270 462l-5 4M353 106l-3 1M638 134l-3 1M467 318l2 1M505 290l6 7" stroke="#dfdfdf" stroke-width="7" stroke-linecap="round" fill="none"/>
<path d="M628 218l4 5M613 158l-5 1M579 228l-0 2M575 47l1 0M585 65l-2 6M644 185l5 3M609 55l-0 1M660 112l5 2M620 55l-2 5M596 33l5 4M658 133l-4 7M608 72l-2 2M643 88l0 1M638 33l2 7M182 385l-1 3M308 400l6 4M261 401l-2 5M289 399l1 0M509 356l5 2M585 422l-2 1M535 437l3 6M593 439l6 1M475 405l-6 5M598 329l1 0M525 467l2 6M352 557l-1 1M439 367l0 0M250 498l8 2M651 112l-0 0M120 318l9 1M202 391l-9 2M132 141l-1 1M251 201l-5 1M104 323l-2 4M180 109l-0 0M175 49l0 0M589 298l1 4M385 675l-4 5M384 420l3 3M677 5l-8 4M432 238l-4 2M255 427l2 1M462 524l0 3M305 437l3 6M42 425l-1 7M89 623l0 2M567 376l3 1M585 584l5 4M150 316l-5 2M108 218l7 3M111 346l6 7M155 315l0 1M179 207l1 2M353 279l6 3M423 638l-1 1M630 84l-2 5M234 34l4 2M87 372l2 4M151 312l6 2M547 598l1 0M401 67l-3 4M459 90l1 5" stroke="#dfdfdf" stroke-width="9" stroke-linecap="round" fill="none"/>
<path d="M658 187l2 1M644 206l3 2M590 187l1 3M564 221l6 1M672 49l-3 2M561 229l-0 0M649 84l0 2M611 137l-0 0M670 168l4 3M659 58l5 6M620 189l-3 5M659 183l-2 3M573 53l6 1M599 57l3 5M673 124l5 1M568 196l6 4M568 84l6 2M583 164l-2 6M169 430l0 2M106 420l-2 4M232 432l7 1M289 442l-0 1M165 419l6 4M325 428l2 4M319 399l-8 3M298 404l-3 2M516 404l2 4M532 321l-1 2M520 405l2 3M463 385l6 5M488 355l-3 5M116 494l-6 1M464 174l-0 2M493 311l-0 0M425 142l-6 2M40 139l0 2M519 100l-7 1M576 225l-3 2M250 286l2 6M662 492l0 4M191 427l0 1M486 134l-0 3M275 216l0 3M82 339l5 3M474 570l-1 6M64 458l3 6M57 321l4 3M121 400l-1 3M500 432l4 5M408 590l-3 4M211 270l-3 3M173 362l2 1M254 347l-0 1M509 451l2 3M8 512l-6 4M200 359l-5 1M222 405l-0 2M58 453l-0 0M204 252l-1 5M191 468l-7 5M28 147l3 0M571 369l-2 8M427 482l2 4M77 22l-3 6M273 502l-1 0M596 493l0 2M103 205l5 1M361 311l-1 2M172 186l-1 1M535 274l0 3M94 481l2 8M453 552l-6 3" stroke="#dfdfdf" stroke-width="11" stroke-linecap="round" fill="none"/>
<path d="M631 210l8 2M644 145l3 1M639 95l-2 1M662 163l-0 0M664 199l-3 1M603 175l2 0M621 179l-2 7M317 447l1 4M273 390l9 2M521 359l1 0M204 168l-5 3M545 356l-2 1M672 319l3 5M415 592l-2 6M274 104l-1 3M356 626l-2 1M522 1l2 3M521 231l-5 7M435 626l5 5M632 523l-6 4M359 516l2 4M240 72l4 1M124 356l5 5M405 456l-5 1M134 327l7 5M449 480l-6 6M555 308l0 0M307 338l3 0M178 317l3 3M504 435l1 1M357 548l-1 1M42 145l1 1M471 679l-0 8M281 362l-5 6M35 24l-1 1" stroke="#ffffff" stroke-width="5" stroke-linecap="round" fill="none"/>
<path d="M565 181l-1 0M614 32l-2 1M616 122l1 7M640 166l-5 2M610 66l6 0M672 64l5 1M624 133l4 3M564 136l-1 1M206 445l-0 2M290 392l-0 5M163 450l0 2M162 421l6 0M588 392l-0 1M493 350l1 1M512 340l6 0M224 428l7 2M150 574l3 5M127 420l0 0M169 148l-1 1M280 461l-1 0M327 279l2 4M475 42l1 2M308 160l1 0M215 392l0 0M75 472l-6 5M87 388l3 0M160 36l2 2M133 339l-4 1M453 539l1 1M574 305l7 1M514 24l-1 0M305 323l-2 2M235 411l4 4M651 56l-1 0M232 592l-2 1M524 20l4 7M305 369l3 4M231 41l2 5" stroke="#ffffff" stroke-width="7" stroke-linecap="round" fill="none"/>
<path d="M591 109l2 2M632 128l4 3M596 72l-1 1M578 199l-3 3M587 149l-2 7M585 37l4 5M620 188l-4 8M571 94l2 3M580 103l4 5M579 144l4 2M321 397l5 1M173 408l7 3M116 398l1 4M270 447l7 5M119 436l1 0M432 376l-0 4M509 384l-7 2M5 291l3 5M240 643l0 6M492 39l0 0M383 39l-1 2M175 502l3 2M137 93l3 3M639 44l-0 4M187 195l-3 5M504 420l-1 1M566 256l-8 3M190 225l-6 5M224 278l-0 8M517 225l-0 0M257 336l-2 3M676 617l6 2M624 171l-9 0M213 78l1 6M588 387l-0 8M284 323l1 1" stroke="#ffffff" stroke-width="9" stroke-linecap="round" fill="none"/>
<path d="M670 142l0 4M631 208l-4 8M565 211l-1 0M658 165l2 3M666 123l-8 0M145 413l6 4M218 414l2 2M560 465l-4 7M511 479l5 1M548 331l-1 4M425 421l4 2M445 486l-2 0M148 272l-2 5M423 50l-2 0M497 436l5 2M154 201l-4 7M603 418l2 1M497 281l-1 1M285 321l-0 0M126 354l0 2M344 482l4 4M446 481l-3 1M18 302l3 0M333 104l5 0M292 359l1 4M183 519l-1 2M669 345l-0 3M368 541l7 2M259 259l6 4M15 367l3 1M254 74l2 2M527 427l-3 0M211 270l-1 2" stroke="#ffffff" stroke-width="11" stroke-linecap="round" fill="none"/>
</g>
</svg>
<svg x="326.0" y="586.0" width="89.3" height="89.0" viewBox="8 15 665 663" preserveAspectRatio="none">
<rect x="0" y="0" width="700" height="700" fill="#000"/>
<g filter="url(#soft)">
<ellipse cx="175" cy="335" rx="45" ry="45" fill="#281028"/>
<ellipse cx="530" cy="365" rx="45" ry="45" fill="#281028"/>
<ellipse cx="170" cy="330" rx="40" ry="40" fill="#040e03"/>
<ellipse cx="530" cy="370" rx="35" ry="35" fill="#030c03"/>
</g><g filter="url(#soft)" style="mix-blend-mode:screen">
<ellipse cx="175" cy="325" rx="5" ry="5" fill="#e040e0"/>
<ellipse cx="185" cy="350" rx="5" ry="5" fill="#e040e0"/>
<ellipse cx="520" cy="350" rx="5" ry="5" fill="#e040e0"/>
<ellipse cx="530" cy="380" rx="5" ry="5" fill="#e040e0"/>
<ellipse cx="545" cy="360" rx="5" ry="5" fill="#e040e0"/>
<ellipse cx="270" cy="30" rx="16.8" ry="16.8" fill="url(#nucm)" opacity="0.95"/>
<ellipse cx="270" cy="65" rx="24.0" ry="21.6" fill="url(#nucm)" opacity="0.95"/>
<ellipse cx="265" cy="100" rx="21.6" ry="19.2" fill="url(#nucm)" opacity="0.95"/>
<ellipse cx="240" cy="165" rx="21.6" ry="24.0" fill="url(#nucm)" opacity="0.95"/>
<ellipse cx="430" cy="85" rx="18.0" ry="19.2" fill="url(#nucm)" opacity="1.00"/>
<ellipse cx="465" cy="115" rx="24.0" ry="21.6" fill="url(#nucm)" opacity="0.90"/>
<ellipse cx="585" cy="35" rx="18.0" ry="16.8" fill="url(#nucm)" opacity="0.67"/>
<ellipse cx="30" cy="212" rx="18.0" ry="19.2" fill="url(#nucm)" opacity="1.00"/>
<ellipse cx="195" cy="232" rx="24.0" ry="21.6" fill="url(#nucm)" opacity="0.95"/>
<ellipse cx="237" cy="260" rx="24.0" ry="21.6" fill="url(#nucm)" opacity="0.95"/>
<ellipse cx="282" cy="300" rx="19.2" ry="21.6" fill="url(#nucm)" opacity="0.95"/>
<ellipse cx="395" cy="320" rx="24.0" ry="24.0" fill="url(#nucm)" opacity="0.84"/>
<ellipse cx="345" cy="360" rx="21.6" ry="19.2" fill="url(#nucm)" opacity="0.67"/>
<ellipse cx="630" cy="375" rx="16.8" ry="19.2" fill="url(#nucm)" opacity="1.00"/>
<ellipse cx="400" cy="525" rx="24.0" ry="24.0" fill="url(#nucm)" opacity="0.84"/>
<ellipse cx="540" cy="575" rx="24.0" ry="21.6" fill="url(#nucm)" opacity="0.84"/>
<ellipse cx="580" cy="595" rx="24.0" ry="21.6" fill="url(#nucm)" opacity="0.90"/>
<ellipse cx="560" cy="620" rx="24.0" ry="21.6" fill="url(#nucm)" opacity="0.95"/>
<ellipse cx="450" cy="605" rx="21.6" ry="21.6" fill="url(#nucm)" opacity="0.95"/>
<ellipse cx="650" cy="635" rx="19.2" ry="21.6" fill="url(#nucm)" opacity="0.78"/>
<ellipse cx="110" cy="555" rx="9.6" ry="9.6" fill="url(#nucm)" opacity="0.90"/>
<ellipse cx="60" cy="625" rx="16.8" ry="16.8" fill="url(#nucm)" opacity="0.67"/>
<ellipse cx="100" cy="650" rx="12.0" ry="16.8" fill="url(#nucm)" opacity="0.84"/>
<ellipse cx="530" cy="250" rx="9.6" ry="7.2" fill="url(#nucm)" opacity="0.34"/>
<path d="M19 473l0 0M437 262l0 0M521 494l0 0M60 125l0 0M243 198l0 0M580 474l0 0M632 599l0 0M77 151l0 0M112 415l0 0M651 545l0 0M142 214l0 0M667 400l0 0M311 304l0 0M590 557l0 0M509 176l0 0M363 80l0 0M477 301l0 0M456 40l0 0M274 479l0 0M634 327l0 0M236 242l0 0M448 675l0 0M652 266l0 0M584 671l0 0M13 174l0 0M366 115l0 0M180 189l0 0M394 556l0 0M154 215l0 0M632 153l0 0" stroke="#1c5a14" stroke-width="6" stroke-linecap="round" fill="none"/>
</g>
<polygon points="151.6,288.8 144.1,238.9 109.1,258.3" fill="#eef07e"/>
<polygon points="558.4,326.8 565.9,276.9 600.9,296.3" fill="#eef07e"/>
</svg>
<text x="0.00" y="224.20" font-size="17.5" font-weight="bold" text-anchor="start" fill="#000" >b</text>
<rect x="51.50" y="235.70" width="88.30" height="13.7" fill="#fff" stroke="#4a4a4a" stroke-width="1.0"/>
<text x="95.65" y="247.10" font-size="10.9" font-weight="bold" text-anchor="middle" fill="#111">DAPI</text>
<rect x="142.70" y="235.70" width="88.90" height="13.7" fill="#fff" stroke="#4a4a4a" stroke-width="1.0"/>
<text x="187.15" y="247.10" font-size="10.9" font-weight="bold" text-anchor="middle" fill="#111">H3K9me3</text>
<rect x="235.10" y="235.70" width="88.10" height="13.7" fill="#fff" stroke="#4a4a4a" stroke-width="1.0"/>
<text x="279.15" y="247.10" font-size="10.9" font-weight="bold" text-anchor="middle" fill="#111">ChAT</text>
<rect x="326.10" y="235.70" width="89.00" height="13.7" fill="#fff" stroke="#4a4a4a" stroke-width="1.0"/>
<text x="370.60" y="247.10" font-size="10.9" font-weight="bold" text-anchor="middle" fill="#111"><tspan fill="#55e030">H3K9me3</tspan> <tspan fill="#ee40ee">DAPI</tspan></text>
<line x1="29.6" y1="252.50" x2="29.6" y2="434.40" stroke="#555" stroke-width="1.1"/>
<rect x="32.7" y="252.60" width="14.6" height="88.0" fill="#fff" stroke="#555" stroke-width="1"/>
<rect x="32.7" y="344.00" width="14.6" height="90.0" fill="#fff" stroke="#555" stroke-width="1"/>
<text transform="translate(24.0,335.10) rotate(-90)" font-size="12.6" text-anchor="middle" fill="#222">Lumbar spinal cord</text>
<text transform="translate(44.2,296.30) rotate(-90)" font-size="11" font-weight="bold" text-anchor="middle" fill="#111">Ctrl</text>
<text transform="translate(42.5,388.30) rotate(-90)" font-size="8.1" font-weight="bold" font-style="italic" text-anchor="middle" fill="#111">ChAT-Cre; Mettl14<tspan font-size="5.2" dy="-3">floxed</tspan></text>
<text x="0.40" y="468.00" font-size="17.5" font-weight="bold" text-anchor="start" fill="#000" >d</text>
<rect x="51.50" y="477.50" width="88.30" height="13.7" fill="#fff" stroke="#4a4a4a" stroke-width="1.0"/>
<text x="95.65" y="488.90" font-size="10.9" font-weight="bold" text-anchor="middle" fill="#111">DAPI</text>
<rect x="142.70" y="477.50" width="88.90" height="13.7" fill="#fff" stroke="#4a4a4a" stroke-width="1.0"/>
<text x="188.55" y="488.90" font-size="10.9" font-weight="bold" text-anchor="middle" fill="#111">γH2AX</text>
<rect x="235.10" y="477.50" width="88.10" height="13.7" fill="#fff" stroke="#4a4a4a" stroke-width="1.0"/>
<text x="279.15" y="488.90" font-size="10.9" font-weight="bold" text-anchor="middle" fill="#111">ChAT</text>
<rect x="326.10" y="477.50" width="89.00" height="13.7" fill="#fff" stroke="#4a4a4a" stroke-width="1.0"/>
<text x="372.00" y="488.90" font-size="10.9" font-weight="bold" text-anchor="middle" fill="#111"><tspan fill="#55e030">γH2AX</tspan> <tspan fill="#ee40ee">DAPI</tspan></text>
<line x1="29.6" y1="494.30" x2="29.6" y2="676.20" stroke="#555" stroke-width="1.1"/>
<rect x="32.7" y="494.40" width="14.6" height="88.0" fill="#fff" stroke="#555" stroke-width="1"/>
<rect x="32.7" y="585.80" width="14.6" height="90.0" fill="#fff" stroke="#555" stroke-width="1"/>
<text transform="translate(24.0,576.90) rotate(-90)" font-size="12.6" text-anchor="middle" fill="#222">Lumbar spinal cord</text>
<text transform="translate(44.2,538.10) rotate(-90)" font-size="11" font-weight="bold" text-anchor="middle" fill="#111">Ctrl</text>
<text transform="translate(42.5,630.10) rotate(-90)" font-size="8.1" font-weight="bold" font-style="italic" text-anchor="middle" fill="#111">ChAT-Cre; Mettl14<tspan font-size="5.2" dy="-3">floxed</tspan></text>
<text x="55.90" y="268.90" font-size="13.8" font-weight="bold" text-anchor="start" fill="#fff" >P120</text>
<text x="55.90" y="507.30" font-size="13.8" font-weight="bold" text-anchor="start" fill="#fff" >P120</text>
<text x="57.60" y="327.60" font-size="8.3" font-weight="bold" text-anchor="start" fill="#fff" >20μm</text>
<text x="56.40" y="569.20" font-size="8.3" font-weight="bold" text-anchor="start" fill="#fff" >20μm</text>
<rect x="60.3" y="333.6" width="16.8" height="1.4" fill="#fff"/>
<rect x="59.4" y="574.6" width="16.8" height="1.4" fill="#fff"/>
<text x="420.30" y="224.40" font-size="17.5" font-weight="bold" text-anchor="start" fill="#000" >c</text>
<text x="540.30" y="224.40" font-size="17.5" font-weight="bold" text-anchor="start" fill="#000" >e</text>
<line x1="471.3" y1="285.6" x2="471.3" y2="380.9" stroke="#808080" stroke-width="1.1"/>
<line x1="470.8" y1="380.5" x2="551.5" y2="380.5" stroke="#808080" stroke-width="1.1"/>
<line x1="466.8" y1="380.40" x2="471.3" y2="380.40" stroke="#808080" stroke-width="1.1"/>
<text x="464.80" y="384.00" font-size="10.2" text-anchor="end" fill="#222" >0</text>
<line x1="466.8" y1="356.79" x2="471.3" y2="356.79" stroke="#808080" stroke-width="1.1"/>
<text x="464.80" y="360.39" font-size="10.2" text-anchor="end" fill="#222" >25</text>
<line x1="466.8" y1="333.17" x2="471.3" y2="333.17" stroke="#808080" stroke-width="1.1"/>
<text x="464.80" y="336.77" font-size="10.2" text-anchor="end" fill="#222" >50</text>
<line x1="466.8" y1="309.56" x2="471.3" y2="309.56" stroke="#808080" stroke-width="1.1"/>
<text x="464.80" y="313.16" font-size="10.2" text-anchor="end" fill="#222" >75</text>
<line x1="466.8" y1="285.95" x2="471.3" y2="285.95" stroke="#808080" stroke-width="1.1"/>
<text x="464.80" y="289.55" font-size="10.2" text-anchor="end" fill="#222" >100</text>
<line x1="494.5" y1="380.5" x2="494.5" y2="384.8" stroke="#808080" stroke-width="1.1"/>
<line x1="529.1" y1="380.5" x2="529.1" y2="384.8" stroke="#808080" stroke-width="1.1"/>
<text x="511.10" y="265.90" font-size="9.1" text-anchor="middle" fill="#111" >P = 2.50e-05</text>
<polyline points="494.6,296.4 494.6,276.5 529.3,276.5 529.3,283.7" fill="none" stroke="#444" stroke-width="1"/>
<text transform="translate(443.9,322.0) rotate(-90)" font-size="10.6" font-weight="bold" text-anchor="middle" fill="#000">H3K9me3 intensity/MN (%)</text>
<line x1="494.5" y1="342.3" x2="494.5" y2="380.4" stroke="#8fb2e2" stroke-width="1.1"/>
<line x1="488.8" y1="342.3" x2="500.1" y2="342.3" stroke="#8fb2e2" stroke-width="1.1"/>
<line x1="483.2" y1="366.4" x2="506" y2="366.4" stroke="#b8d0f0" stroke-width="1.1"/>
<circle cx="494.5" cy="299.6" r="1.95" fill="#8fb2e2"/>
<circle cx="494.5" cy="307.4" r="1.95" fill="#8fb2e2"/>
<circle cx="494.5" cy="313.3" r="1.95" fill="#8fb2e2"/>
<circle cx="494.5" cy="329.3" r="1.95" fill="#8fb2e2"/>
<circle cx="494.5" cy="342.3" r="1.95" fill="#8fb2e2"/>
<circle cx="494.5" cy="354.2" r="1.95" fill="#8fb2e2"/>
<circle cx="494.5" cy="362.7" r="1.95" fill="#8fb2e2"/>
<circle cx="491.9" cy="371.1" r="1.95" fill="#8fb2e2"/>
<circle cx="495.4" cy="371.5" r="1.95" fill="#8fb2e2"/>
<circle cx="493.7" cy="373.2" r="1.95" fill="#8fb2e2"/>
<circle cx="496.6" cy="373.4" r="1.95" fill="#8fb2e2"/>
<circle cx="491.9" cy="375.5" r="1.95" fill="#8fb2e2"/>
<circle cx="497.8" cy="376.7" r="1.95" fill="#8fb2e2"/>
<circle cx="486.7" cy="377.9" r="1.95" fill="#8fb2e2"/>
<circle cx="490.2" cy="378.5" r="1.95" fill="#8fb2e2"/>
<circle cx="494.3" cy="377.9" r="1.95" fill="#8fb2e2"/>
<circle cx="484.3" cy="380.5" r="1.95" fill="#8fb2e2"/>
<circle cx="486.7" cy="380.5" r="1.95" fill="#8fb2e2"/>
<circle cx="489.0" cy="380.5" r="1.95" fill="#8fb2e2"/>
<circle cx="491.4" cy="380.5" r="1.95" fill="#8fb2e2"/>
<circle cx="493.7" cy="380.5" r="1.95" fill="#8fb2e2"/>
<circle cx="496.0" cy="380.5" r="1.95" fill="#8fb2e2"/>
<circle cx="498.4" cy="380.5" r="1.95" fill="#8fb2e2"/>
<circle cx="500.7" cy="380.5" r="1.95" fill="#8fb2e2"/>
<circle cx="503.0" cy="380.5" r="1.95" fill="#8fb2e2"/>
<circle cx="504.8" cy="380.5" r="1.95" fill="#8fb2e2"/>
<circle cx="495.4" cy="376.1" r="1.95" fill="#8fb2e2"/>
<circle cx="492.5" cy="379.6" r="1.95" fill="#8fb2e2"/>
<circle cx="499.5" cy="379.6" r="1.95" fill="#8fb2e2"/>
<circle cx="485.5" cy="379.6" r="1.95" fill="#8fb2e2"/>
<circle cx="501.9" cy="380.0" r="1.95" fill="#8fb2e2"/>
<line x1="529.1" y1="304.3" x2="529.1" y2="364.5" stroke="#b49ae2" stroke-width="1.1"/>
<line x1="523.5" y1="304.3" x2="534.8" y2="304.3" stroke="#b49ae2" stroke-width="1.1"/>
<line x1="523.3" y1="364.5" x2="534.8" y2="364.5" stroke="#b49ae2" stroke-width="1.1"/>
<line x1="517.6" y1="334.3" x2="540.6" y2="334.3" stroke="#b49ae2" stroke-width="1.1"/>
<circle cx="519.4" cy="287.4" r="1.95" fill="#b49ae2"/>
<circle cx="532.2" cy="289.1" r="1.95" fill="#b49ae2"/>
<circle cx="525.8" cy="292.0" r="1.95" fill="#b49ae2"/>
<circle cx="538.6" cy="292.0" r="1.95" fill="#b49ae2"/>
<circle cx="532.2" cy="294.9" r="1.95" fill="#b49ae2"/>
<circle cx="525.8" cy="302.4" r="1.95" fill="#b49ae2"/>
<circle cx="532.2" cy="305.5" r="1.95" fill="#b49ae2"/>
<circle cx="538.6" cy="307.4" r="1.95" fill="#b49ae2"/>
<circle cx="519.4" cy="310.4" r="1.95" fill="#b49ae2"/>
<circle cx="525.8" cy="310.4" r="1.95" fill="#b49ae2"/>
<circle cx="532.2" cy="313.3" r="1.95" fill="#b49ae2"/>
<circle cx="538.6" cy="312.1" r="1.95" fill="#b49ae2"/>
<circle cx="525.8" cy="318.0" r="1.95" fill="#b49ae2"/>
<circle cx="532.2" cy="319.9" r="1.95" fill="#b49ae2"/>
<circle cx="532.2" cy="332.9" r="1.95" fill="#b49ae2"/>
<circle cx="525.8" cy="334.9" r="1.95" fill="#b49ae2"/>
<circle cx="529.1" cy="340.7" r="1.95" fill="#b49ae2"/>
<circle cx="525.8" cy="347.5" r="1.95" fill="#b49ae2"/>
<circle cx="532.2" cy="346.4" r="1.95" fill="#b49ae2"/>
<circle cx="519.4" cy="352.0" r="1.95" fill="#b49ae2"/>
<circle cx="538.6" cy="353.0" r="1.95" fill="#b49ae2"/>
<circle cx="519.4" cy="357.1" r="1.95" fill="#b49ae2"/>
<circle cx="525.8" cy="355.7" r="1.95" fill="#b49ae2"/>
<circle cx="532.2" cy="354.8" r="1.95" fill="#b49ae2"/>
<circle cx="532.2" cy="358.8" r="1.95" fill="#b49ae2"/>
<circle cx="538.6" cy="357.7" r="1.95" fill="#b49ae2"/>
<circle cx="529.1" cy="368.3" r="1.95" fill="#b49ae2"/>
<circle cx="519.4" cy="373.2" r="1.95" fill="#b49ae2"/>
<circle cx="525.8" cy="375.0" r="1.95" fill="#b49ae2"/>
<circle cx="532.2" cy="374.1" r="1.95" fill="#b49ae2"/>
<circle cx="532.2" cy="377.9" r="1.95" fill="#b49ae2"/>
<circle cx="525.8" cy="380.8" r="1.95" fill="#b49ae2"/>
<line x1="596.6" y1="280.5" x2="596.6" y2="381.2" stroke="#808080" stroke-width="1.1"/>
<line x1="596.1" y1="380.8" x2="671.4" y2="380.8" stroke="#808080" stroke-width="1.1"/>
<line x1="592.6" y1="380.80" x2="596.6" y2="380.80" stroke="#808080" stroke-width="1.1"/>
<text x="589.60" y="384.40" font-size="10.2" text-anchor="end" fill="#222" >0</text>
<line x1="592.6" y1="347.70" x2="596.6" y2="347.70" stroke="#808080" stroke-width="1.1"/>
<text x="589.60" y="351.30" font-size="10.2" text-anchor="end" fill="#222" >10</text>
<line x1="592.6" y1="314.60" x2="596.6" y2="314.60" stroke="#808080" stroke-width="1.1"/>
<text x="589.60" y="318.20" font-size="10.2" text-anchor="end" fill="#222" >20</text>
<line x1="592.6" y1="281.50" x2="596.6" y2="281.50" stroke="#808080" stroke-width="1.1"/>
<text x="589.60" y="285.10" font-size="10.2" text-anchor="end" fill="#222" >30</text>
<line x1="618.2" y1="380.8" x2="618.2" y2="385.0" stroke="#808080" stroke-width="1.1"/>
<line x1="650.2" y1="380.8" x2="650.2" y2="385.0" stroke="#808080" stroke-width="1.1"/>
<text x="635.30" y="266.00" font-size="9.1" text-anchor="middle" fill="#111" >P = 8.00e-05</text>
<polyline points="618.2,365.7 618.2,273.6 650.2,273.6 650.2,280.5" fill="none" stroke="#777" stroke-width="1"/>
<text transform="translate(573.4,324.3) rotate(-90)" font-size="11.4" font-weight="bold" text-anchor="middle" fill="#000">γH2AX intensity/MN (%)</text>
<line x1="613.3" y1="376.7" x2="623.5" y2="376.7" stroke="#b8d0f0" stroke-width="1.1"/>
<line x1="618.3" y1="376.7" x2="618.3" y2="381" stroke="#8fb2e2" stroke-width="1"/>
<circle cx="618.5" cy="372.6" r="1.95" fill="#8fb2e2"/>
<circle cx="617.0" cy="374.7" r="1.95" fill="#8fb2e2"/>
<circle cx="620.0" cy="376.5" r="1.95" fill="#8fb2e2"/>
<circle cx="615.5" cy="377.5" r="1.95" fill="#8fb2e2"/>
<circle cx="608.5" cy="379.6" r="1.95" fill="#8fb2e2"/>
<circle cx="610.5" cy="379.8" r="1.95" fill="#8fb2e2"/>
<circle cx="612.5" cy="379.0" r="1.95" fill="#8fb2e2"/>
<circle cx="614.5" cy="380.0" r="1.95" fill="#8fb2e2"/>
<circle cx="616.5" cy="379.6" r="1.95" fill="#8fb2e2"/>
<circle cx="619.0" cy="380.0" r="1.95" fill="#8fb2e2"/>
<circle cx="621.5" cy="379.8" r="1.95" fill="#8fb2e2"/>
<circle cx="623.5" cy="380.0" r="1.95" fill="#8fb2e2"/>
<circle cx="625.5" cy="379.6" r="1.95" fill="#8fb2e2"/>
<circle cx="627.5" cy="380.0" r="1.95" fill="#8fb2e2"/>
<line x1="650.2" y1="318.3" x2="650.2" y2="373.4" stroke="#b49ae2" stroke-width="1.1"/>
<line x1="645" y1="318.3" x2="655.7" y2="318.3" stroke="#b49ae2" stroke-width="1.1"/>
<line x1="645" y1="373.4" x2="655.4" y2="373.4" stroke="#b49ae2" stroke-width="1.1"/>
<line x1="639.2" y1="345.9" x2="660.9" y2="345.9" stroke="#d8d0f2" stroke-width="1.2"/>
<circle cx="650.2" cy="287.2" r="1.95" fill="#b49ae2"/>
<circle cx="650.2" cy="304.4" r="1.95" fill="#b49ae2"/>
<circle cx="650.2" cy="310.2" r="1.95" fill="#b49ae2"/>
<circle cx="650.2" cy="314.7" r="1.95" fill="#b49ae2"/>
<circle cx="647.9" cy="325.5" r="1.95" fill="#b49ae2"/>
<circle cx="652.6" cy="326.2" r="1.95" fill="#b49ae2"/>
<circle cx="650.2" cy="330.6" r="1.95" fill="#b49ae2"/>
<circle cx="650.2" cy="348.0" r="1.95" fill="#b49ae2"/>
<circle cx="650.2" cy="352.7" r="1.95" fill="#b49ae2"/>
<circle cx="645.5" cy="356.3" r="1.95" fill="#b49ae2"/>
<circle cx="654.6" cy="357.9" r="1.95" fill="#b49ae2"/>
<circle cx="650.2" cy="359.8" r="1.95" fill="#b49ae2"/>
<circle cx="641.1" cy="369.2" r="1.95" fill="#b49ae2"/>
<circle cx="645.5" cy="371.1" r="1.95" fill="#b49ae2"/>
<circle cx="650.2" cy="369.6" r="1.95" fill="#b49ae2"/>
<circle cx="654.6" cy="369.8" r="1.95" fill="#b49ae2"/>
<circle cx="659.2" cy="369.6" r="1.95" fill="#b49ae2"/>
<circle cx="654.6" cy="373.4" r="1.95" fill="#b49ae2"/>
<circle cx="645.5" cy="375.9" r="1.95" fill="#b49ae2"/>
<circle cx="518.4" cy="402.9" r="3.4" fill="#8fb2e2"/>
<circle cx="518.4" cy="416.5" r="3.4" fill="#b49ae2"/>
<text x="527.50" y="405.70" font-size="10" text-anchor="start" fill="#111" >Ctrl</text>
<text x="527.5" y="420.6" font-size="10" font-style="italic" fill="#111">ChAT-Cre; Mettl14<tspan font-size="6.4" dy="-3.6">floxed</tspan></text>
<text x="420.30" y="461.50" font-size="17.5" font-weight="bold" text-anchor="start" fill="#000" >f</text>
<rect x="478.2" y="473.9" width="65.7" height="13.4" fill="#d9d9d9" stroke="#a8a8a8" stroke-width="0.9"/>
<text x="511.05" y="485.00" font-size="9.4" text-anchor="middle" fill="#1a1a1a" >Skeletal MNs</text>
<rect x="546.8" y="473.9" width="65.4" height="13.4" fill="#d9d9d9" stroke="#a8a8a8" stroke-width="0.9"/>
<text x="579.50" y="485.00" font-size="9.4" text-anchor="middle" fill="#1a1a1a" >Visceral MNs</text>
<rect x="615.1" y="473.9" width="65.9" height="13.4" fill="#d9d9d9" stroke="#a8a8a8" stroke-width="0.9"/>
<text x="648.05" y="485.00" font-size="9.4" text-anchor="middle" fill="#1a1a1a" >Cholinergic INs</text>
<line x1="477.9" y1="487.6" x2="477.9" y2="631.9" stroke="#c4c4c4" stroke-width="1.2"/>
<line x1="477.8" y1="631.4" x2="544.3" y2="631.4" stroke="#c4c4c4" stroke-width="1.2"/>
<line x1="546.4" y1="631.4" x2="612.6" y2="631.4" stroke="#c4c4c4" stroke-width="1.2"/>
<line x1="614.7" y1="631.4" x2="681.4" y2="631.4" stroke="#c4c4c4" stroke-width="1.2"/>
<text x="475.60" y="518.50" font-size="11.2" text-anchor="end" fill="#3a3a3a" >9000</text>
<line x1="476" y1="514.5" x2="477.9" y2="514.5" stroke="#c4c4c4" stroke-width="0.8"/>
<text x="475.60" y="554.50" font-size="11.2" text-anchor="end" fill="#3a3a3a" >6000</text>
<line x1="476" y1="550.5" x2="477.9" y2="550.5" stroke="#c4c4c4" stroke-width="0.8"/>
<text x="475.60" y="591.00" font-size="11.2" text-anchor="end" fill="#3a3a3a" >3000</text>
<line x1="476" y1="587.0" x2="477.9" y2="587.0" stroke="#c4c4c4" stroke-width="0.8"/>
<text x="475.60" y="627.70" font-size="11.2" text-anchor="end" fill="#3a3a3a" >0</text>
<line x1="476" y1="623.7" x2="477.9" y2="623.7" stroke="#c4c4c4" stroke-width="0.8"/>
<rect x="482.2" y="584.6" width="27.3" height="15.30" fill="#aebcef"/>
<rect x="482.2" y="599.9" width="27.3" height="18.70" fill="#eca2a5"/>
<rect x="482.2" y="618.6" width="27.3" height="2.20" fill="#f5f58d"/>
<rect x="482.2" y="620.8" width="27.3" height="1.60" fill="#c6f0a6"/>
<rect x="482.2" y="622.4" width="27.3" height="0.80" fill="#9fe3c9"/>
<rect x="482.2" y="623.2" width="27.3" height="1.40" fill="#a98cc8"/>
<line x1="495.9" y1="631.4" x2="495.9" y2="633.2" stroke="#c4c4c4" stroke-width="0.8"/>
<rect x="512.5" y="494.2" width="27.3" height="72.80" fill="#aebcef"/>
<rect x="512.5" y="567.0" width="27.3" height="50.10" fill="#eca2a5"/>
<rect x="512.5" y="617.1" width="27.3" height="2.40" fill="#f5f58d"/>
<rect x="512.5" y="619.5" width="27.3" height="3.90" fill="#9fe3c9"/>
<rect x="512.5" y="623.4" width="27.3" height="1.20" fill="#a98cc8"/>
<line x1="526.1" y1="631.4" x2="526.1" y2="633.2" stroke="#c4c4c4" stroke-width="0.8"/>
<rect x="550.9" y="594.1" width="27.1" height="11.70" fill="#aebcef"/>
<rect x="550.9" y="605.8" width="27.1" height="11.80" fill="#eca2a5"/>
<rect x="550.9" y="617.6" width="27.1" height="2.20" fill="#f5f58d"/>
<rect x="550.9" y="619.8" width="27.1" height="1.90" fill="#c6f0a6"/>
<rect x="550.9" y="621.7" width="27.1" height="1.20" fill="#9fe3c9"/>
<rect x="550.9" y="622.9" width="27.1" height="1.70" fill="#a98cc8"/>
<line x1="564.5" y1="631.4" x2="564.5" y2="633.2" stroke="#c4c4c4" stroke-width="0.8"/>
<rect x="581.0" y="613.4" width="27.1" height="6.40" fill="#aebcef"/>
<rect x="581.0" y="619.8" width="27.1" height="3.50" fill="#eca2a5"/>
<rect x="581.0" y="623.3" width="27.1" height="0.60" fill="#f5f58d"/>
<rect x="581.0" y="623.9" width="27.1" height="0.70" fill="#c6f0a6"/>
<line x1="594.5" y1="631.4" x2="594.5" y2="633.2" stroke="#c4c4c4" stroke-width="0.8"/>
<rect x="619.5" y="622.2" width="27.3" height="0.80" fill="#aebcef"/>
<rect x="619.5" y="623.0" width="27.3" height="1.10" fill="#eca2a5"/>
<rect x="619.5" y="624.1" width="27.3" height="0.50" fill="#f5f58d"/>
<line x1="633.1" y1="631.4" x2="633.1" y2="633.2" stroke="#c4c4c4" stroke-width="0.8"/>
<rect x="649.7" y="617.0" width="27.3" height="5.00" fill="#aebcef"/>
<rect x="649.7" y="622.0" width="27.3" height="1.90" fill="#eca2a5"/>
<rect x="649.7" y="623.9" width="27.3" height="0.70" fill="#f5f58d"/>
<line x1="663.4" y1="631.4" x2="663.4" y2="633.2" stroke="#c4c4c4" stroke-width="0.8"/>
<text transform="translate(505.8,641.4) rotate(-45)" font-size="12" text-anchor="end" fill="#3a3a3a">open</text>
<text transform="translate(540.5,641.4) rotate(-45)" font-size="12" text-anchor="end" fill="#3a3a3a">closed</text>
<text transform="translate(574.4,641.4) rotate(-45)" font-size="12" text-anchor="end" fill="#3a3a3a">open</text>
<text transform="translate(609.0,641.4) rotate(-45)" font-size="12" text-anchor="end" fill="#3a3a3a">closed</text>
<text transform="translate(643.1,641.4) rotate(-45)" font-size="12" text-anchor="end" fill="#3a3a3a">open</text>
<text transform="translate(677.8,641.4) rotate(-45)" font-size="12" text-anchor="end" fill="#3a3a3a">closed</text>
<text x="574.70" y="684.60" font-size="11.2" text-anchor="middle" fill="#000" >Change in peak accessibility</text>
<text x="577.3" y="695.8" font-size="11.2" text-anchor="middle" fill="#000">(<tspan font-style="italic">Sun1</tspan><tspan font-size="7" dy="-4" font-style="italic">sfGFP</tspan><tspan dy="4" font-style="italic">; ChAT-Cre; Mettl14</tspan><tspan font-size="7" dy="-4" font-style="italic">floxed</tspan><tspan dy="4"> vs Ctrl)</tspan></text>
<text transform="translate(446.4,565.3) rotate(-90)" font-size="11.3" text-anchor="middle" fill="#000">Number of peaks</text>
<text x="596.10" y="512.90" font-size="12.2" text-anchor="start" fill="#000" >Peak annotation</text>
<rect x="596.2" y="518.80" width="7.6" height="7.2" fill="#aebcef"/>
<text x="607.30" y="525.40" font-size="9.0" text-anchor="start" fill="#1a1a1a" >Intergenic</text>
<rect x="596.2" y="526.85" width="7.6" height="7.2" fill="#eca2a5"/>
<text x="607.30" y="533.45" font-size="9.0" text-anchor="start" fill="#1a1a1a" >Intron</text>
<rect x="596.2" y="534.90" width="7.6" height="7.2" fill="#f5f58d"/>
<text x="607.30" y="541.50" font-size="9.0" text-anchor="start" fill="#1a1a1a" >promoter−TSS</text>
<rect x="596.2" y="542.95" width="7.6" height="7.2" fill="#c6f0a6"/>
<text x="607.30" y="549.55" font-size="9.0" text-anchor="start" fill="#1a1a1a" >TTS</text>
<rect x="596.2" y="551.00" width="7.6" height="7.2" fill="#9fe3c9"/>
<text x="607.30" y="557.60" font-size="9.0" text-anchor="start" fill="#1a1a1a" >Exon</text>
<rect x="596.2" y="559.05" width="7.6" height="7.2" fill="#a8d9ef"/>
<text x="607.30" y="565.65" font-size="9.0" text-anchor="start" fill="#1a1a1a" >Non−coding</text>
<rect x="596.2" y="567.10" width="7.6" height="7.2" fill="#a9afd3"/>
<text x="607.30" y="573.70" font-size="9.0" text-anchor="start" fill="#1a1a1a" >5' UTR</text>
<rect x="596.2" y="575.15" width="7.6" height="7.2" fill="#a98cc8"/>
<text x="607.30" y="581.75" font-size="9.0" text-anchor="start" fill="#1a1a1a" >3' UTR</text>
</svg>
</body></html>
